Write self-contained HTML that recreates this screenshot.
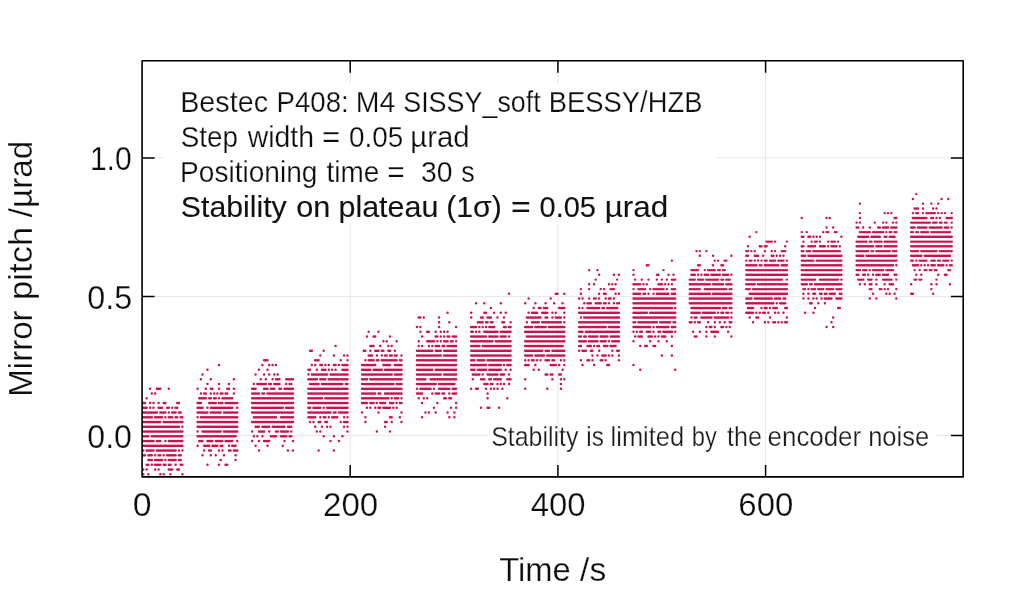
<!DOCTYPE html>
<html lang="en">
<head>
<meta charset="utf-8">
<title>Mirror pitch stability</title>
<style>
html,body{margin:0;padding:0;background:#fff;}
body{width:1024px;height:589px;overflow:hidden;font-family:"Liberation Sans",sans-serif;}
svg{display:block;}
</style>
</head>
<body>
<svg width="1024" height="589" viewBox="0 0 1024 589" font-family="'Liberation Sans', Arial, Helvetica, sans-serif">
<rect width="1024" height="589" fill="#ffffff"/>
<path d="M142.1 296.6H963.2 M142.1 157.9H165 M717 157.9H963.2 M142.1 435.4H487 M936 435.4H963.2 M350.2 60.7V84 M350.2 224V476.9 M557.9 60.7V84 M557.9 224V476.9 M765.6 60.7V476.9" stroke="#e6e6e6" stroke-width="1" fill="none"/>
<path d="M350.2 476.9v-12 M350.2 60.7v12 M557.9 476.9v-12 M557.9 60.7v12 M765.6 476.9v-12 M765.6 60.7v12 M963.2 435.4h-12.3 M142.1 296.6h12.5 M963.2 296.6h-12.3 M142.1 157.9h12.5 M963.2 157.9h-12.3" stroke="#000" stroke-width="1.5" fill="none"/>
<path d="M143.3 403h0M143.3 407.7h0M143.3 412.5h0M143.3 417.2h0M143.3 421.9h0M143.3 426.7h0M143.3 431.4h0M143.3 436.2h0M143.3 440.9h0M143.3 445.7h0M143.3 450.4h0M143.3 455.2h0M143.3 469.4h0M143.3 474.2h0M145 403h0M145 407.7h0M145 412.5h0M145 417.2h0M145 421.9h0M145 426.7h0M145 431.4h0M145 436.2h0M145 440.9h0M145 445.7h0M145 455.2h0M146.7 398.2h0M146.7 407.7h0M146.7 412.5h0M146.7 417.2h0M146.7 421.9h0M146.7 426.7h0M146.7 431.4h0M146.7 436.2h0M146.7 440.9h0M146.7 445.7h0M146.7 450.4h0M146.7 464.7h0M146.7 469.4h0M148.4 412.5h0M148.4 417.2h0M148.4 421.9h0M148.4 426.7h0M148.4 431.4h0M148.4 436.2h0M148.4 440.9h0M148.4 445.7h0M148.4 450.4h0M148.4 455.2h0M148.4 459.9h0M148.4 464.7h0M148.4 474.2h0M150.1 388.7h0M150.1 403h0M150.1 407.7h0M150.1 412.5h0M150.1 417.2h0M150.1 421.9h0M150.1 426.7h0M150.1 431.4h0M150.1 440.9h0M150.1 445.7h0M150.1 450.4h0M150.1 455.2h0M150.1 459.9h0M151.8 393.5h0M151.8 412.5h0M151.8 417.2h0M151.8 421.9h0M151.8 426.7h0M151.8 431.4h0M151.8 436.2h0M151.8 440.9h0M151.8 445.7h0M151.8 450.4h0M151.8 455.2h0M151.8 459.9h0M151.8 464.7h0M153.5 403h0M153.5 407.7h0M153.5 412.5h0M153.5 421.9h0M153.5 426.7h0M153.5 431.4h0M153.5 436.2h0M153.5 440.9h0M153.5 445.7h0M153.5 450.4h0M155.2 393.5h0M155.2 412.5h0M155.2 417.2h0M155.2 421.9h0M155.2 426.7h0M155.2 431.4h0M155.2 436.2h0M155.2 445.7h0M155.2 455.2h0M155.2 459.9h0M155.2 464.7h0M155.2 469.4h0M156.9 388.7h0M156.9 412.5h0M156.9 417.2h0M156.9 421.9h0M156.9 426.7h0M156.9 431.4h0M156.9 436.2h0M156.9 440.9h0M156.9 445.7h0M156.9 450.4h0M156.9 459.9h0M156.9 464.7h0M158.6 388.7h0M158.6 403h0M158.6 407.7h0M158.6 417.2h0M158.6 421.9h0M158.6 426.7h0M158.6 431.4h0M158.6 436.2h0M158.6 440.9h0M158.6 445.7h0M158.6 450.4h0M158.6 455.2h0M158.6 459.9h0M158.6 464.7h0M158.6 469.4h0M160.3 388.7h0M160.3 407.7h0M160.3 412.5h0M160.3 417.2h0M160.3 421.9h0M160.3 426.7h0M160.3 431.4h0M160.3 436.2h0M160.3 440.9h0M160.3 445.7h0M160.3 450.4h0M160.3 455.2h0M160.3 459.9h0M160.3 464.7h0M160.3 474.2h0M162 407.7h0M162 412.5h0M162 417.2h0M162 426.7h0M162 431.4h0M162 436.2h0M162 445.7h0M162 450.4h0M162 459.9h0M163.7 403h0M163.7 412.5h0M163.7 421.9h0M163.7 426.7h0M163.7 431.4h0M163.7 436.2h0M163.7 445.7h0M163.7 450.4h0M163.7 455.2h0M163.7 464.7h0M163.7 474.2h0M165.4 403h0M165.4 412.5h0M165.4 417.2h0M165.4 421.9h0M165.4 426.7h0M165.4 431.4h0M165.4 436.2h0M165.4 440.9h0M165.4 445.7h0M165.4 450.4h0M165.4 459.9h0M165.4 464.7h0M167.1 407.7h0M167.1 421.9h0M167.1 426.7h0M167.1 431.4h0M167.1 436.2h0M167.1 445.7h0M167.1 450.4h0M167.1 455.2h0M168.8 388.7h0M168.8 407.7h0M168.8 412.5h0M168.8 417.2h0M168.8 421.9h0M168.8 426.7h0M168.8 431.4h0M168.8 436.2h0M168.8 440.9h0M168.8 445.7h0M168.8 450.4h0M168.8 455.2h0M168.8 459.9h0M168.8 464.7h0M168.8 469.4h0M170.5 417.2h0M170.5 421.9h0M170.5 426.7h0M170.5 431.4h0M170.5 436.2h0M170.5 440.9h0M170.5 445.7h0M170.5 450.4h0M170.5 455.2h0M170.5 459.9h0M170.5 464.7h0M170.5 469.4h0M170.5 474.2h0M172.2 407.7h0M172.2 412.5h0M172.2 417.2h0M172.2 421.9h0M172.2 426.7h0M172.2 431.4h0M172.2 436.2h0M172.2 440.9h0M172.2 445.7h0M172.2 450.4h0M172.2 455.2h0M172.2 459.9h0M172.2 469.4h0M173.9 412.5h0M173.9 421.9h0M173.9 426.7h0M173.9 431.4h0M173.9 436.2h0M173.9 440.9h0M173.9 445.7h0M173.9 450.4h0M173.9 455.2h0M173.9 459.9h0M175.6 407.7h0M175.6 412.5h0M175.6 417.2h0M175.6 421.9h0M175.6 426.7h0M175.6 431.4h0M175.6 436.2h0M175.6 440.9h0M175.6 445.7h0M175.6 450.4h0M175.6 455.2h0M175.6 459.9h0M175.6 464.7h0M177.3 403h0M177.3 407.7h0M177.3 417.2h0M177.3 421.9h0M177.3 426.7h0M177.3 431.4h0M177.3 436.2h0M177.3 440.9h0M177.3 445.7h0M177.3 469.4h0M179 403h0M179 412.5h0M179 421.9h0M179 426.7h0M179 431.4h0M179 436.2h0M179 440.9h0M179 445.7h0M179 450.4h0M179 455.2h0M179 459.9h0M179 469.4h0M180.7 412.5h0M180.7 417.2h0M180.7 421.9h0M180.7 431.4h0M180.7 436.2h0M180.7 440.9h0M180.7 445.7h0M180.7 455.2h0M180.7 459.9h0M180.7 464.7h0M182.4 417.2h0M182.4 421.9h0M182.4 426.7h0M182.4 431.4h0M182.4 436.2h0M182.4 440.9h0M182.4 445.7h0M182.4 450.4h0M182.4 464.7h0M182.4 474.2h0M197.6 388.7h0M197.6 403h0M197.6 407.7h0M197.6 412.5h0M197.6 417.2h0M197.6 421.9h0M197.6 426.7h0M197.6 431.4h0M197.6 436.2h0M197.6 445.7h0M199.2 398.2h0M199.2 403h0M199.2 407.7h0M199.2 412.5h0M199.2 421.9h0M199.2 426.7h0M199.2 436.2h0M199.2 440.9h0M200.9 379.2h0M200.9 393.5h0M200.9 398.2h0M200.9 403h0M200.9 407.7h0M200.9 412.5h0M200.9 417.2h0M200.9 421.9h0M200.9 426.7h0M200.9 436.2h0M200.9 440.9h0M202.5 374.5h0M202.5 398.2h0M202.5 407.7h0M202.5 412.5h0M202.5 417.2h0M202.5 421.9h0M202.5 426.7h0M202.5 431.4h0M202.5 436.2h0M202.5 440.9h0M202.5 455.2h0M204.2 393.5h0M204.2 398.2h0M204.2 412.5h0M204.2 417.2h0M204.2 421.9h0M204.2 426.7h0M204.2 431.4h0M204.2 436.2h0M204.2 445.7h0M204.2 450.4h0M205.8 388.7h0M205.8 393.5h0M205.8 398.2h0M205.8 412.5h0M205.8 417.2h0M205.8 421.9h0M205.8 426.7h0M205.8 431.4h0M205.8 436.2h0M205.8 445.7h0M207.5 369.7h0M207.5 384h0M207.5 407.7h0M207.5 412.5h0M207.5 417.2h0M207.5 421.9h0M207.5 426.7h0M207.5 431.4h0M207.5 436.2h0M207.5 440.9h0M207.5 445.7h0M207.5 464.7h0M209.2 398.2h0M209.2 403h0M209.2 417.2h0M209.2 421.9h0M209.2 426.7h0M209.2 431.4h0M209.2 436.2h0M209.2 440.9h0M209.2 445.7h0M209.2 450.4h0M210.8 379.2h0M210.8 388.7h0M210.8 393.5h0M210.8 398.2h0M210.8 403h0M210.8 407.7h0M210.8 412.5h0M210.8 417.2h0M210.8 421.9h0M210.8 426.7h0M210.8 431.4h0M210.8 436.2h0M210.8 440.9h0M210.8 450.4h0M210.8 455.2h0M212.4 388.7h0M212.4 403h0M212.4 407.7h0M212.4 412.5h0M212.4 417.2h0M212.4 421.9h0M212.4 426.7h0M212.4 431.4h0M212.4 436.2h0M212.4 440.9h0M212.4 445.7h0M214.1 393.5h0M214.1 398.2h0M214.1 403h0M214.1 407.7h0M214.1 412.5h0M214.1 417.2h0M214.1 421.9h0M214.1 426.7h0M214.1 431.4h0M214.1 436.2h0M214.1 445.7h0M215.8 398.2h0M215.8 403h0M215.8 407.7h0M215.8 412.5h0M215.8 417.2h0M215.8 421.9h0M215.8 426.7h0M215.8 431.4h0M215.8 436.2h0M215.8 440.9h0M215.8 445.7h0M215.8 455.2h0M217.4 393.5h0M217.4 407.7h0M217.4 412.5h0M217.4 417.2h0M217.4 421.9h0M217.4 426.7h0M217.4 431.4h0M217.4 436.2h0M217.4 440.9h0M217.4 445.7h0M219 365h0M219 384h0M219 388.7h0M219 398.2h0M219 403h0M219 407.7h0M219 412.5h0M219 417.2h0M219 421.9h0M219 426.7h0M219 431.4h0M219 436.2h0M219 440.9h0M219 450.4h0M219 464.7h0M220.7 393.5h0M220.7 403h0M220.7 407.7h0M220.7 412.5h0M220.7 417.2h0M220.7 421.9h0M220.7 426.7h0M220.7 431.4h0M220.7 436.2h0M220.7 440.9h0M220.7 445.7h0M220.7 459.9h0M222.4 393.5h0M222.4 398.2h0M222.4 403h0M222.4 407.7h0M222.4 417.2h0M222.4 421.9h0M222.4 426.7h0M222.4 436.2h0M222.4 440.9h0M222.4 445.7h0M222.4 450.4h0M224 398.2h0M224 407.7h0M224 412.5h0M224 417.2h0M224 421.9h0M224 426.7h0M224 431.4h0M224 436.2h0M224 455.2h0M225.6 393.5h0M225.6 398.2h0M225.6 403h0M225.6 407.7h0M225.6 412.5h0M225.6 417.2h0M225.6 421.9h0M225.6 426.7h0M225.6 431.4h0M225.6 436.2h0M225.6 440.9h0M225.6 464.7h0M227.3 388.7h0M227.3 393.5h0M227.3 398.2h0M227.3 403h0M227.3 407.7h0M227.3 412.5h0M227.3 417.2h0M227.3 421.9h0M227.3 426.7h0M227.3 431.4h0M227.3 436.2h0M227.3 440.9h0M227.3 464.7h0M229 384h0M229 388.7h0M229 398.2h0M229 403h0M229 407.7h0M229 412.5h0M229 417.2h0M229 421.9h0M229 426.7h0M229 431.4h0M229 436.2h0M229 440.9h0M229 445.7h0M229 450.4h0M230.6 398.2h0M230.6 403h0M230.6 407.7h0M230.6 412.5h0M230.6 417.2h0M230.6 421.9h0M230.6 426.7h0M230.6 431.4h0M230.6 436.2h0M230.6 440.9h0M230.6 450.4h0M232.2 398.2h0M232.2 403h0M232.2 407.7h0M232.2 412.5h0M232.2 417.2h0M232.2 421.9h0M232.2 426.7h0M232.2 431.4h0M232.2 436.2h0M232.2 440.9h0M232.2 445.7h0M233.9 379.2h0M233.9 388.7h0M233.9 393.5h0M233.9 403h0M233.9 412.5h0M233.9 417.2h0M233.9 421.9h0M233.9 426.7h0M233.9 431.4h0M233.9 436.2h0M233.9 445.7h0M233.9 450.4h0M235.6 403h0M235.6 412.5h0M235.6 417.2h0M235.6 421.9h0M235.6 426.7h0M235.6 431.4h0M235.6 436.2h0M235.6 445.7h0M235.6 450.4h0M235.6 455.2h0M235.6 459.9h0M237.2 403h0M237.2 407.7h0M237.2 412.5h0M237.2 417.2h0M237.2 421.9h0M237.2 426.7h0M237.2 431.4h0M237.2 440.9h0M237.2 450.4h0M252.2 388.7h0M252.2 393.5h0M252.2 398.2h0M252.2 403h0M252.2 407.7h0M252.2 412.5h0M252.2 421.9h0M252.2 431.4h0M252.2 440.9h0M253.9 384h0M253.9 388.7h0M253.9 393.5h0M253.9 398.2h0M253.9 403h0M253.9 407.7h0M253.9 412.5h0M253.9 417.2h0M253.9 421.9h0M253.9 436.2h0M255.6 374.5h0M255.6 388.7h0M255.6 393.5h0M255.6 398.2h0M255.6 403h0M255.6 407.7h0M255.6 412.5h0M255.6 417.2h0M255.6 421.9h0M255.6 426.7h0M255.6 445.7h0M257.3 384h0M257.3 393.5h0M257.3 398.2h0M257.3 403h0M257.3 407.7h0M257.3 412.5h0M257.3 417.2h0M257.3 421.9h0M257.3 426.7h0M257.3 436.2h0M259 369.7h0M259 384h0M259 393.5h0M259 398.2h0M259 403h0M259 407.7h0M259 412.5h0M259 417.2h0M259 421.9h0M259 426.7h0M259 431.4h0M259 440.9h0M259 450.4h0M260.7 379.2h0M260.7 384h0M260.7 398.2h0M260.7 403h0M260.7 407.7h0M260.7 412.5h0M260.7 417.2h0M260.7 421.9h0M260.7 431.4h0M262.4 365h0M262.4 384h0M262.4 393.5h0M262.4 398.2h0M262.4 403h0M262.4 407.7h0M262.4 412.5h0M262.4 417.2h0M262.4 421.9h0M262.4 426.7h0M262.4 431.4h0M262.4 436.2h0M264.1 360.2h0M264.1 374.5h0M264.1 384h0M264.1 388.7h0M264.1 393.5h0M264.1 398.2h0M264.1 403h0M264.1 407.7h0M264.1 412.5h0M264.1 417.2h0M264.1 421.9h0M264.1 426.7h0M264.1 431.4h0M264.1 440.9h0M265.8 360.2h0M265.8 379.2h0M265.8 384h0M265.8 388.7h0M265.8 398.2h0M265.8 403h0M265.8 407.7h0M265.8 412.5h0M265.8 417.2h0M265.8 421.9h0M265.8 426.7h0M265.8 440.9h0M267.5 360.2h0M267.5 369.7h0M267.5 388.7h0M267.5 393.5h0M267.5 398.2h0M267.5 403h0M267.5 407.7h0M267.5 412.5h0M267.5 417.2h0M267.5 421.9h0M267.5 426.7h0M267.5 440.9h0M267.5 445.7h0M269.2 365h0M269.2 374.5h0M269.2 384h0M269.2 393.5h0M269.2 398.2h0M269.2 403h0M269.2 407.7h0M269.2 412.5h0M269.2 417.2h0M269.2 421.9h0M269.2 426.7h0M269.2 431.4h0M269.2 440.9h0M270.9 384h0M270.9 388.7h0M270.9 393.5h0M270.9 398.2h0M270.9 403h0M270.9 407.7h0M270.9 412.5h0M270.9 417.2h0M270.9 421.9h0M270.9 436.2h0M272.6 365h0M272.6 379.2h0M272.6 388.7h0M272.6 393.5h0M272.6 398.2h0M272.6 403h0M272.6 407.7h0M272.6 412.5h0M272.6 417.2h0M272.6 421.9h0M272.6 426.7h0M272.6 436.2h0M274.3 374.5h0M274.3 384h0M274.3 388.7h0M274.3 393.5h0M274.3 398.2h0M274.3 403h0M274.3 407.7h0M274.3 412.5h0M274.3 417.2h0M274.3 421.9h0M274.3 426.7h0M274.3 436.2h0M276 365h0M276 379.2h0M276 384h0M276 393.5h0M276 398.2h0M276 403h0M276 407.7h0M276 412.5h0M276 417.2h0M276 421.9h0M276 426.7h0M276 431.4h0M276 436.2h0M277.7 374.5h0M277.7 379.2h0M277.7 384h0M277.7 393.5h0M277.7 398.2h0M277.7 403h0M277.7 407.7h0M277.7 412.5h0M277.7 421.9h0M277.7 426.7h0M277.7 431.4h0M279.4 379.2h0M279.4 384h0M279.4 388.7h0M279.4 393.5h0M279.4 398.2h0M279.4 403h0M279.4 407.7h0M279.4 412.5h0M279.4 421.9h0M279.4 426.7h0M281.1 388.7h0M281.1 393.5h0M281.1 398.2h0M281.1 403h0M281.1 407.7h0M281.1 412.5h0M281.1 417.2h0M281.1 421.9h0M281.1 426.7h0M281.1 431.4h0M281.1 436.2h0M282.8 393.5h0M282.8 398.2h0M282.8 403h0M282.8 407.7h0M282.8 412.5h0M282.8 417.2h0M282.8 421.9h0M282.8 426.7h0M282.8 431.4h0M282.8 436.2h0M282.8 445.7h0M284.5 388.7h0M284.5 393.5h0M284.5 398.2h0M284.5 403h0M284.5 412.5h0M284.5 417.2h0M284.5 421.9h0M284.5 426.7h0M284.5 431.4h0M284.5 436.2h0M284.5 440.9h0M286.2 379.2h0M286.2 384h0M286.2 388.7h0M286.2 393.5h0M286.2 398.2h0M286.2 403h0M286.2 407.7h0M286.2 412.5h0M286.2 417.2h0M286.2 421.9h0M286.2 431.4h0M286.2 436.2h0M287.9 379.2h0M287.9 388.7h0M287.9 393.5h0M287.9 398.2h0M287.9 403h0M287.9 407.7h0M287.9 412.5h0M287.9 417.2h0M287.9 421.9h0M287.9 426.7h0M287.9 431.4h0M287.9 450.4h0M289.6 379.2h0M289.6 384h0M289.6 388.7h0M289.6 393.5h0M289.6 398.2h0M289.6 403h0M289.6 407.7h0M289.6 412.5h0M289.6 417.2h0M289.6 421.9h0M289.6 426.7h0M289.6 436.2h0M291.3 379.2h0M291.3 384h0M291.3 388.7h0M291.3 393.5h0M291.3 398.2h0M291.3 403h0M291.3 407.7h0M291.3 412.5h0M291.3 417.2h0M291.3 421.9h0M291.3 426.7h0M291.3 431.4h0M291.3 436.2h0M293 379.2h0M293 388.7h0M293 393.5h0M293 398.2h0M293 403h0M293 407.7h0M293 412.5h0M293 417.2h0M293 421.9h0M293 440.9h0M293 450.4h0M308.4 369.7h0M308.4 374.5h0M308.4 379.2h0M308.4 388.7h0M308.4 393.5h0M308.4 398.2h0M308.4 403h0M308.4 407.7h0M308.4 412.5h0M308.4 417.2h0M310.1 350.8h0M310.1 369.7h0M310.1 379.2h0M310.1 384h0M310.1 388.7h0M310.1 393.5h0M310.1 398.2h0M310.1 403h0M310.1 407.7h0M310.1 412.5h0M310.1 417.2h0M310.1 421.9h0M311.8 350.8h0M311.8 365h0M311.8 374.5h0M311.8 379.2h0M311.8 384h0M311.8 388.7h0M311.8 393.5h0M311.8 398.2h0M311.8 403h0M311.8 412.5h0M311.8 417.2h0M313.5 374.5h0M313.5 379.2h0M313.5 384h0M313.5 388.7h0M313.5 393.5h0M313.5 398.2h0M313.5 403h0M313.5 407.7h0M313.5 412.5h0M313.5 417.2h0M313.5 421.9h0M315.2 360.2h0M315.2 365h0M315.2 374.5h0M315.2 379.2h0M315.2 384h0M315.2 388.7h0M315.2 393.5h0M315.2 398.2h0M315.2 403h0M315.2 407.7h0M315.2 412.5h0M315.2 417.2h0M315.2 426.7h0M316.9 360.2h0M316.9 369.7h0M316.9 374.5h0M316.9 379.2h0M316.9 384h0M316.9 388.7h0M316.9 393.5h0M316.9 398.2h0M316.9 403h0M316.9 407.7h0M316.9 412.5h0M316.9 431.4h0M318.6 360.2h0M318.6 374.5h0M318.6 384h0M318.6 388.7h0M318.6 393.5h0M318.6 398.2h0M318.6 403h0M318.6 407.7h0M318.6 412.5h0M318.6 421.9h0M318.6 450.4h0M320.3 355.5h0M320.3 365h0M320.3 374.5h0M320.3 379.2h0M320.3 388.7h0M320.3 393.5h0M320.3 398.2h0M320.3 403h0M320.3 407.7h0M320.3 412.5h0M320.3 417.2h0M320.3 421.9h0M320.3 431.4h0M322 365h0M322 369.7h0M322 374.5h0M322 379.2h0M322 384h0M322 388.7h0M322 393.5h0M322 398.2h0M322 403h0M322 412.5h0M322 426.7h0M323.7 350.8h0M323.7 369.7h0M323.7 374.5h0M323.7 379.2h0M323.7 384h0M323.7 388.7h0M323.7 393.5h0M323.7 403h0M323.7 407.7h0M323.7 412.5h0M323.7 417.2h0M323.7 436.2h0M325.4 365h0M325.4 369.7h0M325.4 374.5h0M325.4 379.2h0M325.4 384h0M325.4 388.7h0M325.4 393.5h0M325.4 398.2h0M325.4 403h0M325.4 412.5h0M325.4 417.2h0M325.4 421.9h0M327.1 374.5h0M327.1 384h0M327.1 388.7h0M327.1 393.5h0M327.1 398.2h0M327.1 403h0M327.1 407.7h0M327.1 412.5h0M327.1 421.9h0M327.1 426.7h0M328.8 365h0M328.8 369.7h0M328.8 379.2h0M328.8 384h0M328.8 388.7h0M328.8 393.5h0M328.8 398.2h0M328.8 403h0M328.8 407.7h0M328.8 412.5h0M328.8 417.2h0M330.5 374.5h0M330.5 379.2h0M330.5 384h0M330.5 388.7h0M330.5 393.5h0M330.5 398.2h0M330.5 403h0M330.5 407.7h0M330.5 412.5h0M330.5 426.7h0M330.5 440.9h0M332.2 369.7h0M332.2 374.5h0M332.2 379.2h0M332.2 384h0M332.2 388.7h0M332.2 393.5h0M332.2 398.2h0M332.2 403h0M332.2 407.7h0M332.2 417.2h0M333.9 355.5h0M333.9 365h0M333.9 374.5h0M333.9 379.2h0M333.9 384h0M333.9 388.7h0M333.9 393.5h0M333.9 398.2h0M333.9 403h0M333.9 407.7h0M333.9 412.5h0M333.9 417.2h0M333.9 436.2h0M333.9 450.4h0M335.6 346h0M335.6 365h0M335.6 369.7h0M335.6 374.5h0M335.6 379.2h0M335.6 384h0M335.6 388.7h0M335.6 393.5h0M335.6 398.2h0M335.6 403h0M335.6 407.7h0M335.6 412.5h0M335.6 417.2h0M337.3 374.5h0M337.3 379.2h0M337.3 384h0M337.3 388.7h0M337.3 393.5h0M337.3 398.2h0M337.3 403h0M337.3 407.7h0M337.3 417.2h0M339 365h0M339 374.5h0M339 379.2h0M339 384h0M339 388.7h0M339 393.5h0M339 398.2h0M339 403h0M339 407.7h0M339 412.5h0M339 440.9h0M340.7 360.2h0M340.7 374.5h0M340.7 379.2h0M340.7 384h0M340.7 388.7h0M340.7 393.5h0M340.7 398.2h0M340.7 403h0M340.7 407.7h0M340.7 412.5h0M340.7 421.9h0M342.4 365h0M342.4 369.7h0M342.4 374.5h0M342.4 379.2h0M342.4 384h0M342.4 388.7h0M342.4 393.5h0M342.4 398.2h0M342.4 403h0M342.4 407.7h0M342.4 412.5h0M342.4 436.2h0M344.1 355.5h0M344.1 365h0M344.1 369.7h0M344.1 374.5h0M344.1 379.2h0M344.1 388.7h0M344.1 393.5h0M344.1 398.2h0M344.1 403h0M344.1 407.7h0M344.1 412.5h0M344.1 417.2h0M344.1 421.9h0M344.1 426.7h0M345.8 365h0M345.8 369.7h0M345.8 374.5h0M345.8 379.2h0M345.8 384h0M345.8 388.7h0M345.8 393.5h0M345.8 398.2h0M345.8 403h0M345.8 407.7h0M345.8 412.5h0M345.8 421.9h0M347.5 355.5h0M347.5 360.2h0M347.5 365h0M347.5 369.7h0M347.5 374.5h0M347.5 379.2h0M347.5 384h0M347.5 388.7h0M347.5 393.5h0M347.5 398.2h0M347.5 403h0M347.5 407.7h0M347.5 412.5h0M347.5 417.2h0M347.5 421.9h0M347.5 426.7h0M347.5 431.4h0M362.1 365h0M362.1 369.7h0M362.1 374.5h0M362.1 379.2h0M362.1 384h0M362.1 388.7h0M362.1 393.5h0M362.1 398.2h0M362.1 403h0M362.1 412.5h0M363.7 350.8h0M363.7 365h0M363.7 369.7h0M363.7 374.5h0M363.7 379.2h0M363.7 384h0M363.7 388.7h0M363.7 393.5h0M363.7 398.2h0M363.7 403h0M365.4 350.8h0M365.4 360.2h0M365.4 365h0M365.4 369.7h0M365.4 374.5h0M365.4 379.2h0M365.4 384h0M365.4 388.7h0M365.4 393.5h0M365.4 398.2h0M365.4 403h0M365.4 417.2h0M365.4 421.9h0M367 336.5h0M367 365h0M367 369.7h0M367 374.5h0M367 379.2h0M367 384h0M367 388.7h0M367 393.5h0M367 398.2h0M367 403h0M367 407.7h0M368.7 331.8h0M368.7 355.5h0M368.7 360.2h0M368.7 365h0M368.7 369.7h0M368.7 374.5h0M368.7 384h0M368.7 388.7h0M368.7 393.5h0M368.7 398.2h0M370.3 346h0M370.3 350.8h0M370.3 355.5h0M370.3 360.2h0M370.3 365h0M370.3 369.7h0M370.3 374.5h0M370.3 379.2h0M370.3 384h0M370.3 388.7h0M370.3 393.5h0M370.3 398.2h0M370.3 403h0M370.3 407.7h0M372 346h0M372 355.5h0M372 360.2h0M372 365h0M372 374.5h0M372 379.2h0M372 384h0M372 388.7h0M372 393.5h0M372 398.2h0M372 403h0M373.6 336.5h0M373.6 346h0M373.6 360.2h0M373.6 365h0M373.6 369.7h0M373.6 374.5h0M373.6 379.2h0M373.6 384h0M373.6 388.7h0M373.6 393.5h0M373.6 398.2h0M373.6 403h0M375.2 336.5h0M375.2 350.8h0M375.2 365h0M375.2 369.7h0M375.2 374.5h0M375.2 379.2h0M375.2 384h0M375.2 388.7h0M375.2 393.5h0M375.2 398.2h0M375.2 407.7h0M376.9 350.8h0M376.9 355.5h0M376.9 360.2h0M376.9 369.7h0M376.9 374.5h0M376.9 379.2h0M376.9 384h0M376.9 388.7h0M376.9 398.2h0M376.9 403h0M376.9 431.4h0M378.5 331.8h0M378.5 350.8h0M378.5 360.2h0M378.5 369.7h0M378.5 374.5h0M378.5 379.2h0M378.5 384h0M378.5 388.7h0M378.5 393.5h0M378.5 398.2h0M378.5 407.7h0M378.5 412.5h0M380.2 346h0M380.2 369.7h0M380.2 374.5h0M380.2 379.2h0M380.2 384h0M380.2 388.7h0M380.2 393.5h0M380.2 398.2h0M380.2 403h0M380.2 407.7h0M381.8 350.8h0M381.8 355.5h0M381.8 360.2h0M381.8 369.7h0M381.8 374.5h0M381.8 379.2h0M381.8 384h0M381.8 388.7h0M381.8 398.2h0M381.8 403h0M383.4 341.3h0M383.4 350.8h0M383.4 360.2h0M383.4 365h0M383.4 374.5h0M383.4 379.2h0M383.4 384h0M383.4 388.7h0M383.4 398.2h0M383.4 403h0M383.4 407.7h0M385.1 355.5h0M385.1 360.2h0M385.1 365h0M385.1 369.7h0M385.1 374.5h0M385.1 379.2h0M385.1 384h0M385.1 388.7h0M385.1 393.5h0M385.1 398.2h0M385.1 403h0M385.1 407.7h0M385.1 421.9h0M385.1 426.7h0M386.7 341.3h0M386.7 355.5h0M386.7 360.2h0M386.7 365h0M386.7 369.7h0M386.7 374.5h0M386.7 379.2h0M386.7 384h0M386.7 388.7h0M386.7 393.5h0M386.7 398.2h0M386.7 407.7h0M386.7 421.9h0M388.4 346h0M388.4 350.8h0M388.4 360.2h0M388.4 365h0M388.4 369.7h0M388.4 374.5h0M388.4 379.2h0M388.4 384h0M388.4 388.7h0M388.4 393.5h0M388.4 398.2h0M388.4 407.7h0M390 336.5h0M390 350.8h0M390 355.5h0M390 360.2h0M390 365h0M390 369.7h0M390 374.5h0M390 379.2h0M390 384h0M390 388.7h0M390 393.5h0M390 403h0M390 407.7h0M390 417.2h0M390 431.4h0M391.7 346h0M391.7 355.5h0M391.7 360.2h0M391.7 369.7h0M391.7 374.5h0M391.7 379.2h0M391.7 384h0M391.7 388.7h0M391.7 393.5h0M391.7 398.2h0M391.7 403h0M391.7 417.2h0M391.7 421.9h0M393.3 360.2h0M393.3 369.7h0M393.3 379.2h0M393.3 384h0M393.3 388.7h0M393.3 393.5h0M393.3 403h0M393.3 407.7h0M394.9 350.8h0M394.9 355.5h0M394.9 360.2h0M394.9 365h0M394.9 369.7h0M394.9 374.5h0M394.9 379.2h0M394.9 388.7h0M394.9 393.5h0M394.9 398.2h0M396.6 341.3h0M396.6 355.5h0M396.6 360.2h0M396.6 365h0M396.6 369.7h0M396.6 374.5h0M396.6 379.2h0M396.6 384h0M396.6 388.7h0M396.6 393.5h0M396.6 398.2h0M396.6 403h0M396.6 407.7h0M398.2 365h0M398.2 369.7h0M398.2 374.5h0M398.2 379.2h0M398.2 384h0M398.2 388.7h0M398.2 393.5h0M398.2 398.2h0M399.9 360.2h0M399.9 365h0M399.9 369.7h0M399.9 374.5h0M399.9 379.2h0M399.9 384h0M399.9 388.7h0M399.9 393.5h0M399.9 403h0M399.9 417.2h0M401.5 355.5h0M401.5 360.2h0M401.5 365h0M401.5 369.7h0M401.5 374.5h0M401.5 379.2h0M401.5 384h0M401.5 388.7h0M401.5 393.5h0M401.5 398.2h0M401.5 403h0M401.5 412.5h0M401.5 421.9h0M417 327h0M417 350.8h0M417 355.5h0M417 360.2h0M417 365h0M417 369.7h0M417 374.5h0M417 379.2h0M417 384h0M417 388.7h0M417 393.5h0M418.7 317.5h0M418.7 341.3h0M418.7 346h0M418.7 350.8h0M418.7 355.5h0M418.7 360.2h0M418.7 365h0M418.7 369.7h0M418.7 374.5h0M418.7 379.2h0M418.7 384h0M418.7 393.5h0M418.7 398.2h0M420.4 317.5h0M420.4 327h0M420.4 331.8h0M420.4 350.8h0M420.4 355.5h0M420.4 360.2h0M420.4 365h0M420.4 369.7h0M420.4 374.5h0M420.4 379.2h0M420.4 384h0M420.4 388.7h0M420.4 393.5h0M422.1 336.5h0M422.1 346h0M422.1 350.8h0M422.1 355.5h0M422.1 360.2h0M422.1 365h0M422.1 369.7h0M422.1 374.5h0M422.1 379.2h0M422.1 384h0M422.1 388.7h0M422.1 393.5h0M422.1 403h0M422.1 417.2h0M423.8 317.5h0M423.8 350.8h0M423.8 355.5h0M423.8 360.2h0M423.8 365h0M423.8 369.7h0M423.8 374.5h0M423.8 379.2h0M423.8 384h0M423.8 388.7h0M423.8 398.2h0M425.5 350.8h0M425.5 355.5h0M425.5 360.2h0M425.5 365h0M425.5 369.7h0M425.5 374.5h0M425.5 379.2h0M425.5 384h0M425.5 388.7h0M425.5 412.5h0M427.2 331.8h0M427.2 341.3h0M427.2 350.8h0M427.2 355.5h0M427.2 360.2h0M427.2 365h0M427.2 369.7h0M427.2 374.5h0M427.2 384h0M427.2 388.7h0M427.2 398.2h0M428.9 331.8h0M428.9 341.3h0M428.9 346h0M428.9 350.8h0M428.9 355.5h0M428.9 360.2h0M428.9 365h0M428.9 369.7h0M428.9 374.5h0M428.9 384h0M428.9 388.7h0M428.9 412.5h0M430.6 341.3h0M430.6 350.8h0M430.6 355.5h0M430.6 360.2h0M430.6 365h0M430.6 369.7h0M430.6 374.5h0M430.6 379.2h0M430.6 384h0M430.6 388.7h0M432.3 341.3h0M432.3 346h0M432.3 350.8h0M432.3 355.5h0M432.3 360.2h0M432.3 365h0M432.3 369.7h0M432.3 374.5h0M432.3 379.2h0M432.3 384h0M432.3 393.5h0M434 341.3h0M434 355.5h0M434 360.2h0M434 365h0M434 374.5h0M434 379.2h0M434 384h0M434 388.7h0M434 407.7h0M435.7 331.8h0M435.7 336.5h0M435.7 346h0M435.7 350.8h0M435.7 355.5h0M435.7 360.2h0M435.7 365h0M435.7 369.7h0M435.7 374.5h0M435.7 379.2h0M435.7 384h0M435.7 393.5h0M435.7 412.5h0M437.4 336.5h0M437.4 341.3h0M437.4 346h0M437.4 350.8h0M437.4 355.5h0M437.4 360.2h0M437.4 365h0M437.4 369.7h0M437.4 374.5h0M437.4 379.2h0M437.4 393.5h0M437.4 403h0M439.1 317.5h0M439.1 322.3h0M439.1 327h0M439.1 346h0M439.1 350.8h0M439.1 355.5h0M439.1 360.2h0M439.1 365h0M439.1 369.7h0M439.1 374.5h0M439.1 379.2h0M439.1 384h0M439.1 388.7h0M439.1 393.5h0M440.8 331.8h0M440.8 336.5h0M440.8 341.3h0M440.8 350.8h0M440.8 355.5h0M440.8 360.2h0M440.8 365h0M440.8 369.7h0M440.8 374.5h0M440.8 379.2h0M440.8 384h0M440.8 388.7h0M442.5 346h0M442.5 360.2h0M442.5 365h0M442.5 369.7h0M442.5 379.2h0M442.5 384h0M442.5 388.7h0M442.5 393.5h0M444.2 331.8h0M444.2 336.5h0M444.2 341.3h0M444.2 346h0M444.2 350.8h0M444.2 355.5h0M444.2 360.2h0M444.2 365h0M444.2 369.7h0M444.2 374.5h0M444.2 379.2h0M444.2 384h0M444.2 388.7h0M444.2 393.5h0M444.2 398.2h0M445.9 341.3h0M445.9 350.8h0M445.9 355.5h0M445.9 360.2h0M445.9 365h0M445.9 369.7h0M445.9 374.5h0M445.9 379.2h0M445.9 384h0M445.9 388.7h0M445.9 398.2h0M447.6 312.8h0M447.6 331.8h0M447.6 336.5h0M447.6 341.3h0M447.6 346h0M447.6 350.8h0M447.6 355.5h0M447.6 360.2h0M447.6 365h0M447.6 369.7h0M447.6 374.5h0M447.6 379.2h0M447.6 384h0M447.6 388.7h0M447.6 412.5h0M449.3 322.3h0M449.3 336.5h0M449.3 346h0M449.3 350.8h0M449.3 355.5h0M449.3 360.2h0M449.3 365h0M449.3 369.7h0M449.3 374.5h0M449.3 379.2h0M449.3 384h0M449.3 388.7h0M449.3 393.5h0M449.3 398.2h0M449.3 417.2h0M451 341.3h0M451 346h0M451 350.8h0M451 355.5h0M451 360.2h0M451 365h0M451 369.7h0M451 374.5h0M451 379.2h0M451 384h0M451 398.2h0M451 407.7h0M452.7 336.5h0M452.7 341.3h0M452.7 346h0M452.7 350.8h0M452.7 355.5h0M452.7 360.2h0M452.7 365h0M452.7 369.7h0M452.7 374.5h0M452.7 379.2h0M452.7 384h0M452.7 388.7h0M452.7 393.5h0M454.4 336.5h0M454.4 346h0M454.4 350.8h0M454.4 355.5h0M454.4 360.2h0M454.4 365h0M454.4 369.7h0M454.4 374.5h0M454.4 379.2h0M454.4 384h0M454.4 388.7h0M454.4 393.5h0M454.4 412.5h0M454.4 417.2h0M456.1 327h0M456.1 336.5h0M456.1 341.3h0M456.1 346h0M456.1 350.8h0M456.1 355.5h0M456.1 360.2h0M456.1 365h0M456.1 369.7h0M456.1 374.5h0M456.1 379.2h0M456.1 388.7h0M456.1 393.5h0M456.1 403h0M456.1 407.7h0M471.2 312.8h0M471.2 317.5h0M471.2 327h0M471.2 331.8h0M471.2 336.5h0M471.2 341.3h0M471.2 346h0M471.2 350.8h0M471.2 355.5h0M471.2 360.2h0M471.2 365h0M471.2 369.7h0M471.2 388.7h0M472.8 327h0M472.8 331.8h0M472.8 336.5h0M472.8 341.3h0M472.8 346h0M472.8 350.8h0M472.8 355.5h0M472.8 360.2h0M472.8 365h0M472.8 369.7h0M472.8 374.5h0M472.8 379.2h0M474.5 327h0M474.5 336.5h0M474.5 341.3h0M474.5 346h0M474.5 350.8h0M474.5 355.5h0M474.5 360.2h0M474.5 365h0M474.5 369.7h0M474.5 374.5h0M476.1 303.3h0M476.1 327h0M476.1 331.8h0M476.1 336.5h0M476.1 341.3h0M476.1 346h0M476.1 350.8h0M476.1 355.5h0M476.1 365h0M476.1 374.5h0M476.1 388.7h0M477.8 322.3h0M477.8 336.5h0M477.8 341.3h0M477.8 346h0M477.8 350.8h0M477.8 355.5h0M477.8 360.2h0M477.8 365h0M477.8 369.7h0M477.8 374.5h0M477.8 388.7h0M479.4 322.3h0M479.4 327h0M479.4 331.8h0M479.4 336.5h0M479.4 341.3h0M479.4 346h0M479.4 350.8h0M479.4 355.5h0M479.4 360.2h0M479.4 365h0M479.4 369.7h0M479.4 374.5h0M481 317.5h0M481 322.3h0M481 336.5h0M481 341.3h0M481 350.8h0M481 355.5h0M481 360.2h0M481 365h0M481 369.7h0M481 379.2h0M481 407.7h0M482.7 317.5h0M482.7 322.3h0M482.7 327h0M482.7 336.5h0M482.7 341.3h0M482.7 346h0M482.7 350.8h0M482.7 355.5h0M482.7 360.2h0M482.7 365h0M482.7 369.7h0M482.7 374.5h0M482.7 379.2h0M484.3 303.3h0M484.3 312.8h0M484.3 331.8h0M484.3 336.5h0M484.3 341.3h0M484.3 346h0M484.3 350.8h0M484.3 355.5h0M484.3 360.2h0M484.3 365h0M484.3 369.7h0M484.3 379.2h0M484.3 384h0M486 312.8h0M486 322.3h0M486 327h0M486 331.8h0M486 336.5h0M486 341.3h0M486 346h0M486 350.8h0M486 355.5h0M486 365h0M486 369.7h0M486 384h0M486 388.7h0M487.6 317.5h0M487.6 322.3h0M487.6 331.8h0M487.6 341.3h0M487.6 346h0M487.6 350.8h0M487.6 355.5h0M487.6 360.2h0M487.6 374.5h0M487.6 384h0M487.6 393.5h0M487.6 398.2h0M487.6 407.7h0M489.3 317.5h0M489.3 327h0M489.3 331.8h0M489.3 336.5h0M489.3 341.3h0M489.3 346h0M489.3 350.8h0M489.3 355.5h0M489.3 360.2h0M489.3 365h0M489.3 369.7h0M489.3 374.5h0M489.3 379.2h0M489.3 407.7h0M490.9 308h0M490.9 317.5h0M490.9 322.3h0M490.9 327h0M490.9 331.8h0M490.9 336.5h0M490.9 341.3h0M490.9 346h0M490.9 350.8h0M490.9 355.5h0M490.9 360.2h0M490.9 365h0M490.9 369.7h0M490.9 374.5h0M490.9 379.2h0M490.9 384h0M490.9 388.7h0M492.5 322.3h0M492.5 327h0M492.5 331.8h0M492.5 336.5h0M492.5 341.3h0M492.5 346h0M492.5 350.8h0M492.5 355.5h0M492.5 360.2h0M492.5 365h0M492.5 369.7h0M492.5 374.5h0M492.5 384h0M494.2 312.8h0M494.2 327h0M494.2 331.8h0M494.2 336.5h0M494.2 346h0M494.2 350.8h0M494.2 355.5h0M494.2 360.2h0M494.2 365h0M494.2 369.7h0M494.2 374.5h0M494.2 379.2h0M494.2 388.7h0M495.8 331.8h0M495.8 336.5h0M495.8 341.3h0M495.8 346h0M495.8 350.8h0M495.8 355.5h0M495.8 360.2h0M495.8 365h0M495.8 369.7h0M495.8 374.5h0M495.8 379.2h0M497.5 317.5h0M497.5 331.8h0M497.5 336.5h0M497.5 341.3h0M497.5 346h0M497.5 350.8h0M497.5 355.5h0M497.5 360.2h0M497.5 365h0M497.5 369.7h0M497.5 374.5h0M497.5 379.2h0M497.5 384h0M497.5 388.7h0M499.1 341.3h0M499.1 346h0M499.1 350.8h0M499.1 355.5h0M499.1 360.2h0M499.1 365h0M499.1 369.7h0M499.1 379.2h0M499.1 407.7h0M500.8 303.3h0M500.8 312.8h0M500.8 331.8h0M500.8 336.5h0M500.8 341.3h0M500.8 346h0M500.8 350.8h0M500.8 355.5h0M500.8 360.2h0M500.8 365h0M500.8 369.7h0M500.8 374.5h0M500.8 379.2h0M500.8 384h0M502.4 322.3h0M502.4 331.8h0M502.4 336.5h0M502.4 341.3h0M502.4 346h0M502.4 350.8h0M502.4 355.5h0M502.4 360.2h0M502.4 374.5h0M502.4 388.7h0M504 317.5h0M504 322.3h0M504 327h0M504 331.8h0M504 336.5h0M504 341.3h0M504 346h0M504 350.8h0M504 355.5h0M504 360.2h0M504 365h0M504 374.5h0M504 384h0M505.7 312.8h0M505.7 327h0M505.7 331.8h0M505.7 336.5h0M505.7 341.3h0M505.7 346h0M505.7 350.8h0M505.7 355.5h0M505.7 360.2h0M505.7 369.7h0M507.3 331.8h0M507.3 341.3h0M507.3 346h0M507.3 350.8h0M507.3 355.5h0M507.3 360.2h0M507.3 365h0M507.3 379.2h0M507.3 398.2h0M509 293.8h0M509 327h0M509 331.8h0M509 336.5h0M509 341.3h0M509 346h0M509 350.8h0M509 355.5h0M509 360.2h0M509 365h0M509 374.5h0M509 379.2h0M509 384h0M510.6 322.3h0M510.6 327h0M510.6 331.8h0M510.6 341.3h0M510.6 346h0M510.6 350.8h0M510.6 355.5h0M510.6 360.2h0M510.6 365h0M510.6 369.7h0M510.6 379.2h0M525.2 303.3h0M525.2 327h0M525.2 331.8h0M525.2 341.3h0M525.2 346h0M525.2 350.8h0M525.2 355.5h0M525.2 360.2h0M525.2 365h0M525.2 379.2h0M525.2 388.7h0M526.9 317.5h0M526.9 322.3h0M526.9 327h0M526.9 331.8h0M526.9 336.5h0M526.9 341.3h0M526.9 346h0M526.9 350.8h0M526.9 355.5h0M526.9 365h0M528.6 298.5h0M528.6 312.8h0M528.6 317.5h0M528.6 327h0M528.6 331.8h0M528.6 336.5h0M528.6 341.3h0M528.6 346h0M528.6 350.8h0M528.6 355.5h0M528.6 360.2h0M528.6 365h0M530.3 317.5h0M530.3 327h0M530.3 331.8h0M530.3 336.5h0M530.3 341.3h0M530.3 346h0M530.3 350.8h0M530.3 355.5h0M532 312.8h0M532 317.5h0M532 322.3h0M532 327h0M532 331.8h0M532 336.5h0M532 341.3h0M532 346h0M532 350.8h0M532 355.5h0M532 360.2h0M533.7 308h0M533.7 312.8h0M533.7 317.5h0M533.7 322.3h0M533.7 331.8h0M533.7 336.5h0M533.7 341.3h0M533.7 346h0M533.7 350.8h0M533.7 360.2h0M533.7 369.7h0M535.4 303.3h0M535.4 312.8h0M535.4 317.5h0M535.4 322.3h0M535.4 327h0M535.4 331.8h0M535.4 336.5h0M535.4 341.3h0M535.4 346h0M535.4 350.8h0M535.4 355.5h0M535.4 365h0M537.1 312.8h0M537.1 317.5h0M537.1 322.3h0M537.1 327h0M537.1 331.8h0M537.1 336.5h0M537.1 341.3h0M537.1 346h0M537.1 350.8h0M537.1 355.5h0M537.1 360.2h0M538.8 308h0M538.8 317.5h0M538.8 322.3h0M538.8 327h0M538.8 331.8h0M538.8 336.5h0M538.8 341.3h0M538.8 346h0M538.8 350.8h0M538.8 355.5h0M538.8 369.7h0M540.5 308h0M540.5 317.5h0M540.5 327h0M540.5 331.8h0M540.5 336.5h0M540.5 341.3h0M540.5 346h0M540.5 350.8h0M540.5 355.5h0M540.5 360.2h0M542.2 312.8h0M542.2 322.3h0M542.2 327h0M542.2 331.8h0M542.2 336.5h0M542.2 341.3h0M542.2 346h0M542.2 350.8h0M542.2 355.5h0M543.9 308h0M543.9 312.8h0M543.9 322.3h0M543.9 327h0M543.9 331.8h0M543.9 336.5h0M543.9 341.3h0M543.9 346h0M543.9 355.5h0M545.6 303.3h0M545.6 308h0M545.6 312.8h0M545.6 317.5h0M545.6 322.3h0M545.6 327h0M545.6 331.8h0M545.6 336.5h0M545.6 341.3h0M545.6 346h0M545.6 350.8h0M545.6 360.2h0M545.6 374.5h0M547.3 308h0M547.3 312.8h0M547.3 317.5h0M547.3 322.3h0M547.3 331.8h0M547.3 336.5h0M547.3 341.3h0M547.3 346h0M547.3 350.8h0M547.3 355.5h0M547.3 360.2h0M547.3 374.5h0M547.3 388.7h0M549 322.3h0M549 327h0M549 331.8h0M549 336.5h0M549 341.3h0M549 346h0M549 350.8h0M549 355.5h0M549 360.2h0M550.7 298.5h0M550.7 322.3h0M550.7 327h0M550.7 331.8h0M550.7 336.5h0M550.7 341.3h0M550.7 346h0M550.7 355.5h0M550.7 365h0M550.7 374.5h0M552.4 312.8h0M552.4 317.5h0M552.4 322.3h0M552.4 327h0M552.4 331.8h0M552.4 336.5h0M552.4 341.3h0M552.4 346h0M552.4 350.8h0M552.4 355.5h0M552.4 360.2h0M552.4 365h0M552.4 374.5h0M552.4 379.2h0M554.1 303.3h0M554.1 322.3h0M554.1 327h0M554.1 331.8h0M554.1 336.5h0M554.1 341.3h0M554.1 346h0M554.1 350.8h0M554.1 355.5h0M554.1 360.2h0M554.1 365h0M555.8 293.8h0M555.8 312.8h0M555.8 317.5h0M555.8 322.3h0M555.8 327h0M555.8 331.8h0M555.8 336.5h0M555.8 341.3h0M555.8 346h0M555.8 350.8h0M555.8 355.5h0M555.8 365h0M557.5 293.8h0M557.5 317.5h0M557.5 322.3h0M557.5 327h0M557.5 331.8h0M557.5 336.5h0M557.5 341.3h0M557.5 346h0M557.5 350.8h0M557.5 355.5h0M559.2 308h0M559.2 317.5h0M559.2 322.3h0M559.2 327h0M559.2 331.8h0M559.2 336.5h0M559.2 341.3h0M559.2 346h0M559.2 350.8h0M559.2 355.5h0M559.2 365h0M559.2 374.5h0M560.9 308h0M560.9 317.5h0M560.9 322.3h0M560.9 327h0M560.9 331.8h0M560.9 336.5h0M560.9 341.3h0M560.9 346h0M560.9 350.8h0M560.9 355.5h0M560.9 360.2h0M560.9 374.5h0M560.9 379.2h0M560.9 384h0M560.9 388.7h0M562.6 303.3h0M562.6 308h0M562.6 327h0M562.6 331.8h0M562.6 336.5h0M562.6 341.3h0M562.6 346h0M562.6 350.8h0M562.6 355.5h0M562.6 369.7h0M564.3 293.8h0M564.3 308h0M564.3 312.8h0M564.3 317.5h0M564.3 322.3h0M564.3 327h0M564.3 331.8h0M564.3 336.5h0M564.3 341.3h0M564.3 350.8h0M564.3 355.5h0M564.3 360.2h0M564.3 365h0M564.3 379.2h0M579.2 298.5h0M579.2 308h0M579.2 312.8h0M579.2 322.3h0M579.2 327h0M579.2 331.8h0M579.2 336.5h0M579.2 341.3h0M579.2 346h0M579.2 350.8h0M580.9 289.1h0M580.9 293.8h0M580.9 312.8h0M580.9 317.5h0M580.9 322.3h0M580.9 327h0M580.9 331.8h0M580.9 336.5h0M580.9 341.3h0M580.9 346h0M580.9 360.2h0M582.5 298.5h0M582.5 308h0M582.5 312.8h0M582.5 322.3h0M582.5 327h0M582.5 331.8h0M582.5 341.3h0M582.5 350.8h0M582.5 365h0M584.2 303.3h0M584.2 312.8h0M584.2 317.5h0M584.2 322.3h0M584.2 327h0M584.2 336.5h0M584.2 341.3h0M584.2 350.8h0M585.8 312.8h0M585.8 317.5h0M585.8 322.3h0M585.8 327h0M585.8 331.8h0M585.8 336.5h0M585.8 341.3h0M585.8 350.8h0M587.5 303.3h0M587.5 308h0M587.5 312.8h0M587.5 317.5h0M587.5 322.3h0M587.5 327h0M587.5 331.8h0M587.5 346h0M587.5 360.2h0M589.1 270.1h0M589.1 284.3h0M589.1 289.1h0M589.1 298.5h0M589.1 303.3h0M589.1 308h0M589.1 312.8h0M589.1 317.5h0M589.1 322.3h0M589.1 327h0M589.1 331.8h0M589.1 336.5h0M589.1 341.3h0M589.1 346h0M589.1 360.2h0M590.8 303.3h0M590.8 308h0M590.8 312.8h0M590.8 317.5h0M590.8 322.3h0M590.8 327h0M590.8 331.8h0M590.8 336.5h0M590.8 341.3h0M590.8 346h0M590.8 350.8h0M592.4 308h0M592.4 312.8h0M592.4 317.5h0M592.4 322.3h0M592.4 327h0M592.4 331.8h0M592.4 336.5h0M592.4 341.3h0M592.4 350.8h0M592.4 355.5h0M592.4 360.2h0M594.1 284.3h0M594.1 298.5h0M594.1 308h0M594.1 312.8h0M594.1 317.5h0M594.1 322.3h0M594.1 327h0M594.1 331.8h0M594.1 336.5h0M594.1 341.3h0M594.1 346h0M594.1 365h0M595.7 279.6h0M595.7 298.5h0M595.7 303.3h0M595.7 308h0M595.7 312.8h0M595.7 317.5h0M595.7 322.3h0M595.7 327h0M595.7 331.8h0M595.7 336.5h0M595.7 341.3h0M597.4 270.1h0M597.4 303.3h0M597.4 308h0M597.4 312.8h0M597.4 317.5h0M597.4 322.3h0M597.4 327h0M597.4 331.8h0M597.4 336.5h0M597.4 341.3h0M597.4 346h0M597.4 355.5h0M599.1 274.8h0M599.1 293.8h0M599.1 298.5h0M599.1 303.3h0M599.1 308h0M599.1 312.8h0M599.1 317.5h0M599.1 322.3h0M599.1 327h0M599.1 331.8h0M599.1 346h0M599.1 350.8h0M600.7 289.1h0M600.7 303.3h0M600.7 312.8h0M600.7 317.5h0M600.7 322.3h0M600.7 327h0M600.7 331.8h0M600.7 336.5h0M600.7 341.3h0M600.7 360.2h0M602.4 308h0M602.4 312.8h0M602.4 317.5h0M602.4 322.3h0M602.4 327h0M602.4 331.8h0M602.4 336.5h0M602.4 341.3h0M602.4 355.5h0M602.4 360.2h0M604 289.1h0M604 293.8h0M604 303.3h0M604 308h0M604 312.8h0M604 317.5h0M604 322.3h0M604 327h0M604 331.8h0M604 336.5h0M604 341.3h0M604 346h0M604 355.5h0M605.7 293.8h0M605.7 298.5h0M605.7 303.3h0M605.7 312.8h0M605.7 317.5h0M605.7 322.3h0M605.7 327h0M605.7 331.8h0M605.7 336.5h0M605.7 341.3h0M605.7 346h0M605.7 355.5h0M605.7 360.2h0M607.3 308h0M607.3 312.8h0M607.3 317.5h0M607.3 322.3h0M607.3 331.8h0M607.3 336.5h0M607.3 346h0M607.3 365h0M609 284.3h0M609 298.5h0M609 303.3h0M609 308h0M609 312.8h0M609 317.5h0M609 322.3h0M609 327h0M609 331.8h0M609 341.3h0M609 355.5h0M609 365h0M610.6 289.1h0M610.6 298.5h0M610.6 308h0M610.6 312.8h0M610.6 317.5h0M610.6 322.3h0M610.6 327h0M610.6 331.8h0M610.6 336.5h0M610.6 346h0M612.3 284.3h0M612.3 289.1h0M612.3 308h0M612.3 312.8h0M612.3 317.5h0M612.3 322.3h0M612.3 327h0M612.3 331.8h0M612.3 336.5h0M612.3 341.3h0M612.3 346h0M612.3 350.8h0M612.3 355.5h0M613.9 274.8h0M613.9 289.1h0M613.9 298.5h0M613.9 303.3h0M613.9 308h0M613.9 312.8h0M613.9 317.5h0M613.9 322.3h0M613.9 327h0M613.9 331.8h0M613.9 336.5h0M613.9 341.3h0M613.9 346h0M615.6 284.3h0M615.6 293.8h0M615.6 308h0M615.6 312.8h0M615.6 317.5h0M615.6 322.3h0M615.6 327h0M615.6 331.8h0M615.6 336.5h0M615.6 341.3h0M615.6 346h0M617.2 279.6h0M617.2 303.3h0M617.2 308h0M617.2 312.8h0M617.2 317.5h0M617.2 322.3h0M617.2 327h0M617.2 331.8h0M617.2 336.5h0M617.2 341.3h0M617.2 350.8h0M618.9 274.8h0M618.9 293.8h0M618.9 303.3h0M618.9 312.8h0M618.9 317.5h0M618.9 322.3h0M618.9 327h0M618.9 331.8h0M618.9 336.5h0M618.9 341.3h0M618.9 350.8h0M618.9 355.5h0M618.9 360.2h0M633.5 270.1h0M633.5 274.8h0M633.5 284.3h0M633.5 289.1h0M633.5 293.8h0M633.5 298.5h0M633.5 303.3h0M633.5 308h0M633.5 312.8h0M633.5 317.5h0M633.5 322.3h0M633.5 327h0M633.5 331.8h0M633.5 341.3h0M633.5 365h0M635.2 279.6h0M635.2 284.3h0M635.2 293.8h0M635.2 298.5h0M635.2 303.3h0M635.2 308h0M635.2 312.8h0M635.2 317.5h0M635.2 322.3h0M635.2 327h0M635.2 336.5h0M636.8 284.3h0M636.8 293.8h0M636.8 298.5h0M636.8 303.3h0M636.8 308h0M636.8 312.8h0M636.8 317.5h0M636.8 327h0M636.8 331.8h0M638.5 284.3h0M638.5 289.1h0M638.5 293.8h0M638.5 298.5h0M638.5 303.3h0M638.5 308h0M638.5 312.8h0M638.5 317.5h0M638.5 322.3h0M638.5 327h0M638.5 336.5h0M640.2 284.3h0M640.2 289.1h0M640.2 293.8h0M640.2 298.5h0M640.2 303.3h0M640.2 308h0M640.2 312.8h0M640.2 317.5h0M640.2 322.3h0M640.2 327h0M640.2 331.8h0M640.2 336.5h0M640.2 346h0M640.2 369.7h0M641.8 279.6h0M641.8 289.1h0M641.8 298.5h0M641.8 303.3h0M641.8 308h0M641.8 312.8h0M641.8 317.5h0M641.8 322.3h0M641.8 327h0M641.8 331.8h0M641.8 336.5h0M643.5 284.3h0M643.5 289.1h0M643.5 293.8h0M643.5 298.5h0M643.5 303.3h0M643.5 308h0M643.5 312.8h0M643.5 317.5h0M643.5 322.3h0M643.5 327h0M645.2 289.1h0M645.2 293.8h0M645.2 298.5h0M645.2 303.3h0M645.2 308h0M645.2 312.8h0M645.2 317.5h0M645.2 322.3h0M645.2 327h0M645.2 346h0M646.8 265.3h0M646.8 284.3h0M646.8 298.5h0M646.8 303.3h0M646.8 308h0M646.8 312.8h0M646.8 317.5h0M646.8 322.3h0M646.8 327h0M646.8 331.8h0M646.8 346h0M648.5 265.3h0M648.5 279.6h0M648.5 293.8h0M648.5 298.5h0M648.5 303.3h0M648.5 308h0M648.5 317.5h0M648.5 322.3h0M648.5 327h0M648.5 331.8h0M648.5 336.5h0M650.2 289.1h0M650.2 298.5h0M650.2 303.3h0M650.2 308h0M650.2 312.8h0M650.2 317.5h0M650.2 322.3h0M650.2 327h0M650.2 331.8h0M650.2 336.5h0M650.2 341.3h0M651.8 298.5h0M651.8 303.3h0M651.8 308h0M651.8 312.8h0M651.8 317.5h0M651.8 322.3h0M651.8 336.5h0M653.5 289.1h0M653.5 293.8h0M653.5 298.5h0M653.5 303.3h0M653.5 308h0M653.5 312.8h0M653.5 317.5h0M653.5 322.3h0M653.5 327h0M653.5 331.8h0M653.5 346h0M655.2 289.1h0M655.2 298.5h0M655.2 303.3h0M655.2 308h0M655.2 312.8h0M655.2 317.5h0M655.2 322.3h0M655.2 336.5h0M655.2 346h0M656.9 274.8h0M656.9 279.6h0M656.9 289.1h0M656.9 293.8h0M656.9 298.5h0M656.9 303.3h0M656.9 308h0M656.9 312.8h0M656.9 317.5h0M656.9 322.3h0M656.9 327h0M658.5 274.8h0M658.5 284.3h0M658.5 289.1h0M658.5 293.8h0M658.5 298.5h0M658.5 303.3h0M658.5 308h0M658.5 312.8h0M658.5 317.5h0M658.5 327h0M658.5 331.8h0M658.5 336.5h0M658.5 341.3h0M660.2 284.3h0M660.2 289.1h0M660.2 293.8h0M660.2 298.5h0M660.2 303.3h0M660.2 308h0M660.2 312.8h0M660.2 317.5h0M660.2 322.3h0M660.2 327h0M660.2 331.8h0M661.9 279.6h0M661.9 284.3h0M661.9 289.1h0M661.9 293.8h0M661.9 298.5h0M661.9 303.3h0M661.9 308h0M661.9 312.8h0M661.9 317.5h0M661.9 322.3h0M661.9 327h0M661.9 336.5h0M661.9 355.5h0M663.5 270.1h0M663.5 289.1h0M663.5 293.8h0M663.5 298.5h0M663.5 303.3h0M663.5 308h0M663.5 312.8h0M663.5 317.5h0M663.5 322.3h0M663.5 327h0M663.5 331.8h0M663.5 336.5h0M665.2 284.3h0M665.2 293.8h0M665.2 298.5h0M665.2 303.3h0M665.2 308h0M665.2 312.8h0M665.2 317.5h0M665.2 322.3h0M665.2 327h0M665.2 331.8h0M665.2 336.5h0M666.9 279.6h0M666.9 289.1h0M666.9 293.8h0M666.9 298.5h0M666.9 303.3h0M666.9 308h0M666.9 312.8h0M666.9 317.5h0M666.9 322.3h0M666.9 327h0M666.9 331.8h0M666.9 341.3h0M668.5 274.8h0M668.5 284.3h0M668.5 293.8h0M668.5 298.5h0M668.5 303.3h0M668.5 308h0M668.5 312.8h0M668.5 317.5h0M668.5 322.3h0M668.5 327h0M668.5 331.8h0M670.2 298.5h0M670.2 303.3h0M670.2 308h0M670.2 312.8h0M670.2 317.5h0M670.2 322.3h0M670.2 331.8h0M671.9 260.6h0M671.9 279.6h0M671.9 284.3h0M671.9 289.1h0M671.9 293.8h0M671.9 298.5h0M671.9 303.3h0M671.9 308h0M671.9 312.8h0M671.9 317.5h0M671.9 327h0M671.9 331.8h0M671.9 336.5h0M671.9 346h0M671.9 355.5h0M673.5 274.8h0M673.5 279.6h0M673.5 289.1h0M673.5 293.8h0M673.5 298.5h0M673.5 303.3h0M673.5 312.8h0M673.5 317.5h0M673.5 322.3h0M673.5 327h0M675.2 279.6h0M675.2 289.1h0M675.2 293.8h0M675.2 298.5h0M675.2 303.3h0M675.2 308h0M675.2 312.8h0M675.2 317.5h0M675.2 322.3h0M675.2 327h0M675.2 331.8h0M675.2 369.7h0M689.8 279.6h0M689.8 284.3h0M689.8 289.1h0M689.8 293.8h0M689.8 298.5h0M689.8 303.3h0M689.8 322.3h0M691.5 270.1h0M691.5 274.8h0M691.5 279.6h0M691.5 284.3h0M691.5 289.1h0M691.5 293.8h0M691.5 298.5h0M691.5 303.3h0M691.5 308h0M691.5 312.8h0M691.5 317.5h0M691.5 322.3h0M693.1 270.1h0M693.1 274.8h0M693.1 279.6h0M693.1 284.3h0M693.1 289.1h0M693.1 293.8h0M693.1 298.5h0M693.1 303.3h0M693.1 308h0M693.1 312.8h0M693.1 331.8h0M694.8 270.1h0M694.8 274.8h0M694.8 279.6h0M694.8 284.3h0M694.8 289.1h0M694.8 293.8h0M694.8 298.5h0M694.8 303.3h0M694.8 308h0M694.8 312.8h0M694.8 317.5h0M694.8 322.3h0M694.8 336.5h0M696.5 251.1h0M696.5 270.1h0M696.5 284.3h0M696.5 289.1h0M696.5 293.8h0M696.5 298.5h0M696.5 303.3h0M696.5 308h0M696.5 312.8h0M696.5 317.5h0M696.5 336.5h0M698.1 265.3h0M698.1 270.1h0M698.1 274.8h0M698.1 279.6h0M698.1 284.3h0M698.1 289.1h0M698.1 293.8h0M698.1 298.5h0M698.1 303.3h0M698.1 308h0M698.1 312.8h0M698.1 322.3h0M699.8 251.1h0M699.8 255.8h0M699.8 265.3h0M699.8 279.6h0M699.8 284.3h0M699.8 289.1h0M699.8 293.8h0M699.8 298.5h0M699.8 303.3h0M699.8 308h0M699.8 312.8h0M699.8 322.3h0M699.8 331.8h0M701.4 274.8h0M701.4 279.6h0M701.4 284.3h0M701.4 293.8h0M701.4 298.5h0M701.4 303.3h0M701.4 308h0M701.4 317.5h0M703.1 279.6h0M703.1 284.3h0M703.1 293.8h0M703.1 298.5h0M703.1 303.3h0M703.1 308h0M703.1 312.8h0M703.1 317.5h0M704.8 270.1h0M704.8 274.8h0M704.8 284.3h0M704.8 289.1h0M704.8 293.8h0M704.8 298.5h0M704.8 303.3h0M704.8 308h0M704.8 312.8h0M704.8 317.5h0M706.4 251.1h0M706.4 274.8h0M706.4 279.6h0M706.4 284.3h0M706.4 289.1h0M706.4 293.8h0M706.4 298.5h0M706.4 303.3h0M706.4 308h0M706.4 312.8h0M706.4 317.5h0M706.4 327h0M706.4 331.8h0M706.4 336.5h0M708.1 270.1h0M708.1 274.8h0M708.1 279.6h0M708.1 284.3h0M708.1 289.1h0M708.1 293.8h0M708.1 298.5h0M708.1 303.3h0M708.1 308h0M708.1 312.8h0M708.1 317.5h0M708.1 322.3h0M709.8 270.1h0M709.8 279.6h0M709.8 284.3h0M709.8 289.1h0M709.8 293.8h0M709.8 298.5h0M709.8 303.3h0M709.8 308h0M709.8 312.8h0M709.8 317.5h0M709.8 327h0M711.4 270.1h0M711.4 274.8h0M711.4 279.6h0M711.4 289.1h0M711.4 298.5h0M711.4 303.3h0M711.4 308h0M711.4 312.8h0M711.4 317.5h0M711.4 327h0M711.4 331.8h0M713.1 255.8h0M713.1 265.3h0M713.1 270.1h0M713.1 274.8h0M713.1 279.6h0M713.1 284.3h0M713.1 289.1h0M713.1 293.8h0M713.1 298.5h0M713.1 303.3h0M713.1 308h0M713.1 312.8h0M713.1 331.8h0M714.8 260.6h0M714.8 270.1h0M714.8 274.8h0M714.8 279.6h0M714.8 284.3h0M714.8 289.1h0M714.8 293.8h0M714.8 298.5h0M714.8 303.3h0M714.8 308h0M714.8 312.8h0M714.8 317.5h0M714.8 322.3h0M714.8 327h0M714.8 331.8h0M714.8 336.5h0M716.4 274.8h0M716.4 279.6h0M716.4 284.3h0M716.4 289.1h0M716.4 293.8h0M716.4 298.5h0M716.4 303.3h0M716.4 308h0M716.4 317.5h0M716.4 331.8h0M718.1 260.6h0M718.1 270.1h0M718.1 274.8h0M718.1 279.6h0M718.1 284.3h0M718.1 289.1h0M718.1 293.8h0M718.1 298.5h0M718.1 303.3h0M718.1 308h0M718.1 312.8h0M718.1 317.5h0M718.1 331.8h0M719.8 270.1h0M719.8 274.8h0M719.8 284.3h0M719.8 289.1h0M719.8 293.8h0M719.8 298.5h0M719.8 303.3h0M719.8 308h0M719.8 317.5h0M719.8 322.3h0M721.4 265.3h0M721.4 279.6h0M721.4 284.3h0M721.4 289.1h0M721.4 293.8h0M721.4 298.5h0M721.4 303.3h0M721.4 312.8h0M721.4 317.5h0M721.4 327h0M723.1 265.3h0M723.1 270.1h0M723.1 274.8h0M723.1 279.6h0M723.1 284.3h0M723.1 289.1h0M723.1 293.8h0M723.1 298.5h0M723.1 303.3h0M723.1 308h0M723.1 312.8h0M723.1 317.5h0M723.1 327h0M724.7 260.6h0M724.7 270.1h0M724.7 274.8h0M724.7 289.1h0M724.7 293.8h0M724.7 298.5h0M724.7 303.3h0M724.7 308h0M724.7 317.5h0M724.7 322.3h0M726.4 260.6h0M726.4 274.8h0M726.4 279.6h0M726.4 284.3h0M726.4 289.1h0M726.4 293.8h0M726.4 298.5h0M726.4 303.3h0M726.4 308h0M726.4 312.8h0M726.4 317.5h0M726.4 327h0M728.1 274.8h0M728.1 279.6h0M728.1 284.3h0M728.1 293.8h0M728.1 298.5h0M728.1 303.3h0M728.1 312.8h0M728.1 317.5h0M728.1 331.8h0M729.7 279.6h0M729.7 284.3h0M729.7 289.1h0M729.7 293.8h0M729.7 298.5h0M729.7 303.3h0M729.7 308h0M729.7 322.3h0M729.7 327h0M731.4 255.8h0M731.4 274.8h0M731.4 284.3h0M731.4 289.1h0M731.4 293.8h0M731.4 298.5h0M731.4 303.3h0M731.4 308h0M731.4 312.8h0M731.4 317.5h0M731.4 322.3h0M731.4 336.5h0M746.3 251.1h0M746.3 255.8h0M746.3 260.6h0M746.3 265.3h0M746.3 270.1h0M746.3 274.8h0M746.3 279.6h0M746.3 284.3h0M746.3 289.1h0M746.3 298.5h0M746.3 303.3h0M746.3 312.8h0M748 246.3h0M748 251.1h0M748 255.8h0M748 265.3h0M748 270.1h0M748 274.8h0M748 279.6h0M748 284.3h0M748 289.1h0M748 298.5h0M748 303.3h0M748 308h0M748 312.8h0M749.7 236.8h0M749.7 260.6h0M749.7 265.3h0M749.7 270.1h0M749.7 274.8h0M749.7 279.6h0M749.7 284.3h0M749.7 289.1h0M749.7 293.8h0M749.7 298.5h0M749.7 303.3h0M749.7 308h0M749.7 312.8h0M749.7 317.5h0M751.4 251.1h0M751.4 260.6h0M751.4 265.3h0M751.4 270.1h0M751.4 274.8h0M751.4 279.6h0M751.4 284.3h0M751.4 293.8h0M751.4 298.5h0M751.4 303.3h0M751.4 308h0M751.4 312.8h0M753.1 265.3h0M753.1 270.1h0M753.1 274.8h0M753.1 279.6h0M753.1 284.3h0M753.1 289.1h0M753.1 293.8h0M753.1 303.3h0M753.1 308h0M753.1 312.8h0M753.1 322.3h0M754.8 251.1h0M754.8 255.8h0M754.8 260.6h0M754.8 265.3h0M754.8 270.1h0M754.8 274.8h0M754.8 279.6h0M754.8 284.3h0M754.8 289.1h0M754.8 293.8h0M754.8 298.5h0M754.8 303.3h0M756.4 232.1h0M756.4 255.8h0M756.4 265.3h0M756.4 270.1h0M756.4 274.8h0M756.4 279.6h0M756.4 289.1h0M756.4 293.8h0M756.4 298.5h0M756.4 303.3h0M756.4 312.8h0M756.4 317.5h0M758.1 255.8h0M758.1 260.6h0M758.1 270.1h0M758.1 274.8h0M758.1 279.6h0M758.1 284.3h0M758.1 289.1h0M758.1 293.8h0M758.1 298.5h0M758.1 303.3h0M758.1 317.5h0M759.8 246.3h0M759.8 265.3h0M759.8 270.1h0M759.8 274.8h0M759.8 279.6h0M759.8 284.3h0M759.8 289.1h0M759.8 293.8h0M759.8 298.5h0M759.8 303.3h0M759.8 312.8h0M761.5 246.3h0M761.5 260.6h0M761.5 265.3h0M761.5 270.1h0M761.5 274.8h0M761.5 279.6h0M761.5 284.3h0M761.5 289.1h0M761.5 293.8h0M761.5 298.5h0M761.5 303.3h0M761.5 308h0M763.2 255.8h0M763.2 270.1h0M763.2 274.8h0M763.2 279.6h0M763.2 284.3h0M763.2 289.1h0M763.2 293.8h0M763.2 298.5h0M763.2 303.3h0M763.2 312.8h0M764.9 246.3h0M764.9 251.1h0M764.9 260.6h0M764.9 265.3h0M764.9 270.1h0M764.9 274.8h0M764.9 279.6h0M764.9 284.3h0M764.9 289.1h0M764.9 293.8h0M764.9 298.5h0M764.9 303.3h0M764.9 308h0M764.9 312.8h0M764.9 322.3h0M766.6 241.6h0M766.6 246.3h0M766.6 260.6h0M766.6 265.3h0M766.6 270.1h0M766.6 274.8h0M766.6 279.6h0M766.6 284.3h0M766.6 289.1h0M766.6 293.8h0M766.6 298.5h0M766.6 303.3h0M766.6 308h0M768.3 241.6h0M768.3 265.3h0M768.3 270.1h0M768.3 274.8h0M768.3 279.6h0M768.3 284.3h0M768.3 289.1h0M768.3 293.8h0M768.3 298.5h0M768.3 303.3h0M768.3 312.8h0M768.3 322.3h0M770 241.6h0M770 260.6h0M770 265.3h0M770 270.1h0M770 274.8h0M770 279.6h0M770 284.3h0M770 289.1h0M770 293.8h0M770 298.5h0M770 303.3h0M770 308h0M770 317.5h0M771.7 241.6h0M771.7 251.1h0M771.7 255.8h0M771.7 260.6h0M771.7 265.3h0M771.7 270.1h0M771.7 274.8h0M771.7 279.6h0M771.7 284.3h0M771.7 289.1h0M771.7 293.8h0M771.7 298.5h0M771.7 303.3h0M773.4 255.8h0M773.4 260.6h0M773.4 265.3h0M773.4 270.1h0M773.4 274.8h0M773.4 279.6h0M773.4 284.3h0M773.4 289.1h0M773.4 293.8h0M773.4 303.3h0M773.4 308h0M773.4 322.3h0M775.1 241.6h0M775.1 251.1h0M775.1 260.6h0M775.1 265.3h0M775.1 270.1h0M775.1 274.8h0M775.1 279.6h0M775.1 284.3h0M775.1 289.1h0M775.1 293.8h0M775.1 298.5h0M775.1 308h0M775.1 312.8h0M775.1 322.3h0M776.8 255.8h0M776.8 265.3h0M776.8 270.1h0M776.8 274.8h0M776.8 279.6h0M776.8 284.3h0M776.8 289.1h0M776.8 293.8h0M776.8 298.5h0M776.8 303.3h0M776.8 308h0M778.4 260.6h0M778.4 265.3h0M778.4 270.1h0M778.4 274.8h0M778.4 279.6h0M778.4 284.3h0M778.4 289.1h0M778.4 293.8h0M778.4 298.5h0M778.4 312.8h0M778.4 322.3h0M780.1 255.8h0M780.1 260.6h0M780.1 270.1h0M780.1 274.8h0M780.1 279.6h0M780.1 284.3h0M780.1 289.1h0M780.1 293.8h0M780.1 298.5h0M780.1 303.3h0M781.8 251.1h0M781.8 260.6h0M781.8 265.3h0M781.8 270.1h0M781.8 274.8h0M781.8 279.6h0M781.8 284.3h0M781.8 289.1h0M781.8 293.8h0M781.8 303.3h0M781.8 322.3h0M783.5 251.1h0M783.5 255.8h0M783.5 260.6h0M783.5 265.3h0M783.5 270.1h0M783.5 274.8h0M783.5 284.3h0M783.5 289.1h0M783.5 293.8h0M783.5 298.5h0M783.5 303.3h0M783.5 312.8h0M785.2 246.3h0M785.2 251.1h0M785.2 265.3h0M785.2 270.1h0M785.2 274.8h0M785.2 284.3h0M785.2 289.1h0M785.2 293.8h0M785.2 298.5h0M785.2 303.3h0M785.2 308h0M785.2 322.3h0M786.9 241.6h0M786.9 260.6h0M786.9 265.3h0M786.9 270.1h0M786.9 274.8h0M786.9 279.6h0M786.9 284.3h0M786.9 289.1h0M786.9 293.8h0M786.9 308h0M786.9 317.5h0M786.9 322.3h0M801.8 217.9h0M801.8 232.1h0M801.8 236.8h0M801.8 246.3h0M801.8 251.1h0M801.8 255.8h0M801.8 260.6h0M801.8 265.3h0M801.8 270.1h0M801.8 274.8h0M801.8 279.6h0M801.8 284.3h0M803.4 236.8h0M803.4 241.6h0M803.4 246.3h0M803.4 251.1h0M803.4 255.8h0M803.4 260.6h0M803.4 265.3h0M803.4 270.1h0M803.4 274.8h0M803.4 279.6h0M803.4 284.3h0M803.4 289.1h0M803.4 293.8h0M803.4 298.5h0M805.1 255.8h0M805.1 260.6h0M805.1 265.3h0M805.1 270.1h0M805.1 274.8h0M805.1 279.6h0M805.1 284.3h0M805.1 289.1h0M805.1 312.8h0M806.8 232.1h0M806.8 251.1h0M806.8 260.6h0M806.8 265.3h0M806.8 270.1h0M806.8 274.8h0M806.8 279.6h0M806.8 284.3h0M808.4 236.8h0M808.4 246.3h0M808.4 251.1h0M808.4 255.8h0M808.4 260.6h0M808.4 265.3h0M808.4 270.1h0M808.4 274.8h0M808.4 279.6h0M808.4 289.1h0M808.4 293.8h0M808.4 298.5h0M810.1 236.8h0M810.1 246.3h0M810.1 251.1h0M810.1 255.8h0M810.1 260.6h0M810.1 265.3h0M810.1 270.1h0M810.1 274.8h0M810.1 279.6h0M810.1 284.3h0M810.1 303.3h0M811.7 241.6h0M811.7 246.3h0M811.7 255.8h0M811.7 260.6h0M811.7 265.3h0M811.7 270.1h0M811.7 274.8h0M811.7 279.6h0M811.7 284.3h0M811.7 289.1h0M811.7 303.3h0M813.4 236.8h0M813.4 246.3h0M813.4 251.1h0M813.4 255.8h0M813.4 260.6h0M813.4 265.3h0M813.4 270.1h0M813.4 274.8h0M813.4 279.6h0M813.4 289.1h0M813.4 293.8h0M813.4 298.5h0M813.4 312.8h0M815 241.6h0M815 246.3h0M815 251.1h0M815 255.8h0M815 265.3h0M815 270.1h0M815 274.8h0M815 279.6h0M815 284.3h0M815 289.1h0M815 293.8h0M815 308h0M816.7 236.8h0M816.7 241.6h0M816.7 251.1h0M816.7 255.8h0M816.7 260.6h0M816.7 265.3h0M816.7 270.1h0M816.7 274.8h0M816.7 284.3h0M816.7 298.5h0M818.3 251.1h0M818.3 255.8h0M818.3 260.6h0M818.3 265.3h0M818.3 270.1h0M818.3 274.8h0M818.3 284.3h0M818.3 289.1h0M818.3 303.3h0M820 236.8h0M820 241.6h0M820 246.3h0M820 251.1h0M820 255.8h0M820 260.6h0M820 265.3h0M820 270.1h0M820 274.8h0M820 279.6h0M820 284.3h0M820 289.1h0M820 293.8h0M821.6 246.3h0M821.6 251.1h0M821.6 255.8h0M821.6 260.6h0M821.6 265.3h0M821.6 270.1h0M821.6 274.8h0M821.6 279.6h0M821.6 284.3h0M821.6 289.1h0M821.6 293.8h0M821.6 298.5h0M823.2 232.1h0M823.2 246.3h0M823.2 251.1h0M823.2 255.8h0M823.2 260.6h0M823.2 265.3h0M823.2 270.1h0M823.2 274.8h0M823.2 279.6h0M823.2 284.3h0M823.2 289.1h0M824.9 246.3h0M824.9 251.1h0M824.9 255.8h0M824.9 260.6h0M824.9 265.3h0M824.9 270.1h0M824.9 274.8h0M824.9 279.6h0M824.9 284.3h0M824.9 293.8h0M824.9 298.5h0M824.9 303.3h0M826.6 217.9h0M826.6 227.4h0M826.6 232.1h0M826.6 251.1h0M826.6 255.8h0M826.6 260.6h0M826.6 265.3h0M826.6 270.1h0M826.6 274.8h0M826.6 279.6h0M826.6 284.3h0M826.6 289.1h0M826.6 293.8h0M826.6 298.5h0M826.6 327h0M828.2 232.1h0M828.2 241.6h0M828.2 246.3h0M828.2 251.1h0M828.2 255.8h0M828.2 260.6h0M828.2 265.3h0M828.2 270.1h0M828.2 274.8h0M828.2 279.6h0M828.2 284.3h0M828.2 289.1h0M828.2 298.5h0M829.8 217.9h0M829.8 251.1h0M829.8 255.8h0M829.8 260.6h0M829.8 265.3h0M829.8 270.1h0M829.8 274.8h0M829.8 279.6h0M829.8 284.3h0M829.8 289.1h0M829.8 293.8h0M829.8 298.5h0M831.5 241.6h0M831.5 246.3h0M831.5 251.1h0M831.5 255.8h0M831.5 260.6h0M831.5 265.3h0M831.5 270.1h0M831.5 274.8h0M831.5 279.6h0M831.5 284.3h0M831.5 289.1h0M831.5 293.8h0M831.5 298.5h0M831.5 322.3h0M833.2 227.4h0M833.2 241.6h0M833.2 246.3h0M833.2 251.1h0M833.2 255.8h0M833.2 260.6h0M833.2 265.3h0M833.2 270.1h0M833.2 274.8h0M833.2 279.6h0M833.2 284.3h0M833.2 289.1h0M833.2 293.8h0M833.2 317.5h0M833.2 327h0M834.8 232.1h0M834.8 241.6h0M834.8 246.3h0M834.8 251.1h0M834.8 255.8h0M834.8 260.6h0M834.8 265.3h0M834.8 270.1h0M834.8 274.8h0M834.8 279.6h0M834.8 284.3h0M834.8 293.8h0M836.4 232.1h0M836.4 246.3h0M836.4 251.1h0M836.4 255.8h0M836.4 260.6h0M836.4 265.3h0M836.4 270.1h0M836.4 274.8h0M836.4 279.6h0M836.4 284.3h0M836.4 289.1h0M836.4 298.5h0M838.1 241.6h0M838.1 251.1h0M838.1 255.8h0M838.1 260.6h0M838.1 265.3h0M838.1 270.1h0M838.1 274.8h0M838.1 279.6h0M838.1 284.3h0M838.1 289.1h0M838.1 298.5h0M838.1 308h0M839.8 246.3h0M839.8 251.1h0M839.8 255.8h0M839.8 260.6h0M839.8 265.3h0M839.8 270.1h0M839.8 274.8h0M839.8 284.3h0M839.8 289.1h0M839.8 293.8h0M839.8 298.5h0M839.8 308h0M841.4 236.8h0M841.4 255.8h0M841.4 260.6h0M841.4 265.3h0M841.4 270.1h0M841.4 274.8h0M841.4 279.6h0M841.4 284.3h0M841.4 289.1h0M841.4 293.8h0M841.4 298.5h0M856.6 222.6h0M856.6 227.4h0M856.6 241.6h0M856.6 246.3h0M856.6 251.1h0M856.6 255.8h0M856.6 260.6h0M856.6 265.3h0M856.6 270.1h0M856.6 274.8h0M858.3 227.4h0M858.3 236.8h0M858.3 241.6h0M858.3 246.3h0M858.3 251.1h0M858.3 255.8h0M858.3 260.6h0M858.3 265.3h0M858.3 270.1h0M858.3 274.8h0M858.3 279.6h0M859.9 203.6h0M859.9 213.1h0M859.9 217.9h0M859.9 222.6h0M859.9 232.1h0M859.9 236.8h0M859.9 241.6h0M859.9 246.3h0M859.9 251.1h0M859.9 255.8h0M859.9 260.6h0M859.9 265.3h0M859.9 270.1h0M859.9 279.6h0M859.9 284.3h0M861.6 232.1h0M861.6 236.8h0M861.6 241.6h0M861.6 246.3h0M861.6 251.1h0M861.6 255.8h0M861.6 260.6h0M861.6 265.3h0M861.6 279.6h0M863.2 227.4h0M863.2 232.1h0M863.2 236.8h0M863.2 241.6h0M863.2 246.3h0M863.2 251.1h0M863.2 255.8h0M863.2 260.6h0M863.2 265.3h0M863.2 270.1h0M863.2 274.8h0M863.2 279.6h0M864.9 232.1h0M864.9 236.8h0M864.9 241.6h0M864.9 246.3h0M864.9 251.1h0M864.9 260.6h0M864.9 265.3h0M864.9 270.1h0M864.9 274.8h0M864.9 284.3h0M866.5 232.1h0M866.5 236.8h0M866.5 241.6h0M866.5 246.3h0M866.5 251.1h0M866.5 255.8h0M866.5 260.6h0M866.5 265.3h0M866.5 270.1h0M868.2 232.1h0M868.2 236.8h0M868.2 246.3h0M868.2 251.1h0M868.2 255.8h0M868.2 260.6h0M868.2 265.3h0M868.2 274.8h0M868.2 279.6h0M869.8 227.4h0M869.8 232.1h0M869.8 241.6h0M869.8 246.3h0M869.8 255.8h0M869.8 260.6h0M869.8 265.3h0M869.8 270.1h0M869.8 279.6h0M869.8 284.3h0M869.8 289.1h0M869.8 298.5h0M871.5 236.8h0M871.5 241.6h0M871.5 246.3h0M871.5 251.1h0M871.5 255.8h0M871.5 260.6h0M871.5 265.3h0M871.5 279.6h0M871.5 284.3h0M871.5 289.1h0M873.1 232.1h0M873.1 236.8h0M873.1 246.3h0M873.1 251.1h0M873.1 255.8h0M873.1 260.6h0M873.1 265.3h0M873.1 270.1h0M873.1 274.8h0M873.1 293.8h0M874.8 222.6h0M874.8 232.1h0M874.8 236.8h0M874.8 241.6h0M874.8 255.8h0M874.8 260.6h0M874.8 265.3h0M874.8 270.1h0M876.4 232.1h0M876.4 236.8h0M876.4 241.6h0M876.4 246.3h0M876.4 251.1h0M876.4 255.8h0M876.4 260.6h0M876.4 265.3h0M876.4 270.1h0M876.4 274.8h0M876.4 279.6h0M876.4 284.3h0M876.4 298.5h0M878.1 227.4h0M878.1 232.1h0M878.1 236.8h0M878.1 241.6h0M878.1 246.3h0M878.1 251.1h0M878.1 255.8h0M878.1 260.6h0M878.1 265.3h0M878.1 270.1h0M878.1 274.8h0M879.8 227.4h0M879.8 232.1h0M879.8 236.8h0M879.8 241.6h0M879.8 246.3h0M879.8 251.1h0M879.8 255.8h0M879.8 260.6h0M879.8 265.3h0M879.8 270.1h0M879.8 274.8h0M879.8 289.1h0M881.4 232.1h0M881.4 241.6h0M881.4 246.3h0M881.4 251.1h0M881.4 255.8h0M881.4 260.6h0M881.4 265.3h0M881.4 270.1h0M881.4 289.1h0M883.1 222.6h0M883.1 227.4h0M883.1 232.1h0M883.1 251.1h0M883.1 255.8h0M883.1 260.6h0M883.1 265.3h0M883.1 270.1h0M883.1 274.8h0M883.1 279.6h0M884.7 213.1h0M884.7 227.4h0M884.7 236.8h0M884.7 241.6h0M884.7 246.3h0M884.7 251.1h0M884.7 255.8h0M884.7 260.6h0M884.7 265.3h0M884.7 274.8h0M884.7 279.6h0M884.7 284.3h0M884.7 289.1h0M886.4 222.6h0M886.4 227.4h0M886.4 232.1h0M886.4 236.8h0M886.4 241.6h0M886.4 246.3h0M886.4 251.1h0M886.4 255.8h0M886.4 260.6h0M886.4 265.3h0M886.4 270.1h0M886.4 274.8h0M886.4 279.6h0M886.4 293.8h0M888 213.1h0M888 227.4h0M888 241.6h0M888 246.3h0M888 251.1h0M888 255.8h0M888 260.6h0M888 265.3h0M888 270.1h0M888 274.8h0M888 279.6h0M888 289.1h0M889.7 232.1h0M889.7 236.8h0M889.7 241.6h0M889.7 246.3h0M889.7 251.1h0M889.7 255.8h0M889.7 260.6h0M889.7 265.3h0M889.7 270.1h0M889.7 279.6h0M889.7 284.3h0M889.7 293.8h0M891.3 213.1h0M891.3 227.4h0M891.3 232.1h0M891.3 236.8h0M891.3 241.6h0M891.3 246.3h0M891.3 255.8h0M891.3 260.6h0M891.3 265.3h0M891.3 270.1h0M891.3 279.6h0M891.3 284.3h0M893 222.6h0M893 227.4h0M893 236.8h0M893 241.6h0M893 246.3h0M893 251.1h0M893 255.8h0M893 260.6h0M893 265.3h0M893 270.1h0M893 284.3h0M894.6 217.9h0M894.6 227.4h0M894.6 232.1h0M894.6 236.8h0M894.6 241.6h0M894.6 246.3h0M894.6 251.1h0M894.6 255.8h0M894.6 260.6h0M894.6 274.8h0M894.6 293.8h0M896.3 217.9h0M896.3 222.6h0M896.3 227.4h0M896.3 232.1h0M896.3 241.6h0M896.3 246.3h0M896.3 251.1h0M896.3 255.8h0M896.3 260.6h0M896.3 265.3h0M896.3 274.8h0M896.3 279.6h0M896.3 289.1h0M896.3 298.5h0M911.2 222.6h0M911.2 227.4h0M911.2 232.1h0M911.2 236.8h0M911.2 241.6h0M911.2 246.3h0M911.2 251.1h0M911.2 255.8h0M911.2 260.6h0M911.2 284.3h0M911.2 293.8h0M912.9 198.9h0M912.9 213.1h0M912.9 217.9h0M912.9 222.6h0M912.9 227.4h0M912.9 232.1h0M912.9 236.8h0M912.9 241.6h0M912.9 246.3h0M912.9 251.1h0M912.9 255.8h0M912.9 260.6h0M912.9 265.3h0M912.9 293.8h0M914.6 208.4h0M914.6 217.9h0M914.6 222.6h0M914.6 227.4h0M914.6 236.8h0M914.6 241.6h0M914.6 246.3h0M914.6 251.1h0M914.6 255.8h0M914.6 265.3h0M914.6 270.1h0M914.6 279.6h0M916.3 194.1h0M916.3 208.4h0M916.3 213.1h0M916.3 217.9h0M916.3 222.6h0M916.3 232.1h0M916.3 236.8h0M916.3 241.6h0M916.3 246.3h0M916.3 251.1h0M916.3 255.8h0M916.3 260.6h0M916.3 265.3h0M916.3 274.8h0M916.3 279.6h0M918 208.4h0M918 213.1h0M918 217.9h0M918 222.6h0M918 227.4h0M918 232.1h0M918 236.8h0M918 241.6h0M918 246.3h0M918 251.1h0M918 255.8h0M918 265.3h0M919.6 217.9h0M919.6 222.6h0M919.6 227.4h0M919.6 236.8h0M919.6 241.6h0M919.6 246.3h0M919.6 255.8h0M919.6 260.6h0M919.6 270.1h0M919.6 279.6h0M921.3 217.9h0M921.3 222.6h0M921.3 227.4h0M921.3 232.1h0M921.3 236.8h0M921.3 241.6h0M921.3 246.3h0M921.3 251.1h0M921.3 255.8h0M921.3 260.6h0M921.3 265.3h0M921.3 274.8h0M921.3 279.6h0M923 203.6h0M923 208.4h0M923 213.1h0M923 217.9h0M923 222.6h0M923 227.4h0M923 232.1h0M923 236.8h0M923 241.6h0M923 246.3h0M923 251.1h0M923 260.6h0M924.7 217.9h0M924.7 222.6h0M924.7 227.4h0M924.7 232.1h0M924.7 236.8h0M924.7 241.6h0M924.7 246.3h0M924.7 251.1h0M924.7 255.8h0M924.7 260.6h0M924.7 265.3h0M924.7 270.1h0M926.4 213.1h0M926.4 217.9h0M926.4 222.6h0M926.4 227.4h0M926.4 232.1h0M926.4 236.8h0M926.4 241.6h0M926.4 246.3h0M926.4 251.1h0M926.4 255.8h0M926.4 260.6h0M926.4 270.1h0M928.1 213.1h0M928.1 222.6h0M928.1 232.1h0M928.1 236.8h0M928.1 241.6h0M928.1 246.3h0M928.1 251.1h0M928.1 255.8h0M928.1 265.3h0M929.8 213.1h0M929.8 222.6h0M929.8 227.4h0M929.8 236.8h0M929.8 241.6h0M929.8 246.3h0M929.8 251.1h0M929.8 255.8h0M929.8 270.1h0M931.4 203.6h0M931.4 213.1h0M931.4 217.9h0M931.4 227.4h0M931.4 232.1h0M931.4 236.8h0M931.4 241.6h0M931.4 246.3h0M931.4 251.1h0M931.4 255.8h0M931.4 260.6h0M931.4 265.3h0M931.4 270.1h0M931.4 284.3h0M931.4 289.1h0M933.1 208.4h0M933.1 213.1h0M933.1 217.9h0M933.1 222.6h0M933.1 227.4h0M933.1 232.1h0M933.1 236.8h0M933.1 241.6h0M933.1 246.3h0M933.1 251.1h0M933.1 255.8h0M933.1 260.6h0M933.1 265.3h0M933.1 293.8h0M934.8 213.1h0M934.8 222.6h0M934.8 227.4h0M934.8 232.1h0M934.8 236.8h0M934.8 241.6h0M934.8 246.3h0M934.8 251.1h0M934.8 255.8h0M934.8 260.6h0M934.8 265.3h0M934.8 270.1h0M936.5 208.4h0M936.5 217.9h0M936.5 222.6h0M936.5 227.4h0M936.5 232.1h0M936.5 236.8h0M936.5 241.6h0M936.5 246.3h0M936.5 251.1h0M936.5 255.8h0M936.5 270.1h0M936.5 279.6h0M936.5 284.3h0M938.2 203.6h0M938.2 213.1h0M938.2 227.4h0M938.2 232.1h0M938.2 236.8h0M938.2 241.6h0M938.2 246.3h0M938.2 255.8h0M938.2 260.6h0M938.2 265.3h0M938.2 274.8h0M939.9 217.9h0M939.9 222.6h0M939.9 227.4h0M939.9 232.1h0M939.9 236.8h0M939.9 241.6h0M939.9 246.3h0M939.9 251.1h0M939.9 255.8h0M939.9 260.6h0M939.9 265.3h0M941.6 198.9h0M941.6 213.1h0M941.6 222.6h0M941.6 227.4h0M941.6 232.1h0M941.6 236.8h0M941.6 241.6h0M941.6 246.3h0M941.6 251.1h0M941.6 255.8h0M941.6 265.3h0M943.3 232.1h0M943.3 236.8h0M943.3 241.6h0M943.3 246.3h0M943.3 251.1h0M943.3 255.8h0M943.3 260.6h0M943.3 265.3h0M945 213.1h0M945 222.6h0M945 227.4h0M945 232.1h0M945 236.8h0M945 241.6h0M945 246.3h0M945 251.1h0M945 255.8h0M945 260.6h0M945 274.8h0M946.6 217.9h0M946.6 222.6h0M946.6 227.4h0M946.6 232.1h0M946.6 236.8h0M946.6 241.6h0M946.6 246.3h0M946.6 251.1h0M946.6 255.8h0M946.6 260.6h0M946.6 265.3h0M946.6 274.8h0M948.3 198.9h0M948.3 217.9h0M948.3 227.4h0M948.3 232.1h0M948.3 236.8h0M948.3 241.6h0M948.3 246.3h0M948.3 251.1h0M948.3 255.8h0M948.3 260.6h0M948.3 270.1h0M950 217.9h0M950 232.1h0M950 236.8h0M950 241.6h0M950 246.3h0M950 251.1h0M950 255.8h0M950 265.3h0M950 270.1h0M950 284.3h0M951.7 213.1h0M951.7 217.9h0M951.7 222.6h0M951.7 227.4h0M951.7 236.8h0M951.7 241.6h0M951.7 246.3h0M951.7 251.1h0M951.7 260.6h0M951.7 265.3h0" stroke="#c8144e" stroke-width="2.45" stroke-linecap="round" fill="none"/>
<rect x="142.1" y="60.7" width="821.1" height="416.2" fill="none" stroke="#000" stroke-width="1.6" stroke-linejoin="round"/>
<text x="89.89" y="170.3" font-size="32.5" fill="#0d0d0d" textLength="41.8" lengthAdjust="spacingAndGlyphs" stroke="#fff" stroke-width="0.25">1.0</text>
<text x="87.36" y="309.1" font-size="32.5" fill="#0d0d0d" textLength="44.86" lengthAdjust="spacingAndGlyphs" stroke="#fff" stroke-width="0.25">0.5</text>
<text x="87.37" y="447.8" font-size="32.5" fill="#0d0d0d" textLength="44.6" lengthAdjust="spacingAndGlyphs" stroke="#fff" stroke-width="0.25">0.0</text>
<text x="132.8" y="515.8" font-size="32.5" fill="#0d0d0d" textLength="18.78" lengthAdjust="spacingAndGlyphs" stroke="#fff" stroke-width="0.25">0</text>
<text x="323.02" y="515.8" font-size="32.5" fill="#0d0d0d" textLength="55.23" lengthAdjust="spacingAndGlyphs" stroke="#fff" stroke-width="0.25">200</text>
<text x="530.74" y="515.8" font-size="32.5" fill="#0d0d0d" textLength="54.8" lengthAdjust="spacingAndGlyphs" stroke="#fff" stroke-width="0.25">400</text>
<text x="738.32" y="515.8" font-size="32.5" fill="#0d0d0d" textLength="55.02" lengthAdjust="spacingAndGlyphs" stroke="#fff" stroke-width="0.25">600</text>
<text y="580.6" font-size="32.8" fill="#0d0d0d" stroke="#fff" stroke-width="0.25"><tspan x="499.15" textLength="71.56" lengthAdjust="spacingAndGlyphs">Time</tspan> <tspan x="580.1" textLength="26.09" lengthAdjust="spacingAndGlyphs">/s</tspan></text>
<g transform="translate(31.8 394) rotate(-90)"><text y="0" font-size="32.8" fill="#0d0d0d" stroke="#fff" stroke-width="0.25"><tspan x="-2.78" textLength="86.39" lengthAdjust="spacingAndGlyphs">Mirror</tspan> <tspan x="94.13" textLength="73.01" lengthAdjust="spacingAndGlyphs">pitch</tspan> <tspan x="176.8" textLength="76.39" lengthAdjust="spacingAndGlyphs">/µrad</tspan></text></g>
<text y="112.1" font-size="29.0" fill="#0d0d0d" stroke="#fff" stroke-width="0.25"><tspan x="180.22" textLength="87.78" lengthAdjust="spacingAndGlyphs">Bestec</tspan> <tspan x="276.62" textLength="72.09" lengthAdjust="spacingAndGlyphs">P408:</tspan> <tspan x="355.75" textLength="39.53" lengthAdjust="spacingAndGlyphs">M4</tspan> <tspan x="403.21" textLength="137.57" lengthAdjust="spacingAndGlyphs">SISSY_soft</tspan> <tspan x="548.84" textLength="153.6" lengthAdjust="spacingAndGlyphs">BESSY/HZB</tspan></text>
<text y="146.9" font-size="29.0" fill="#0d0d0d" stroke="#fff" stroke-width="0.25"><tspan x="180.66" textLength="57.25" lengthAdjust="spacingAndGlyphs">Step</tspan> <tspan x="247.7" textLength="66.31" lengthAdjust="spacingAndGlyphs">width</tspan> <tspan x="322.08" textLength="18.27" lengthAdjust="spacingAndGlyphs">=</tspan> <tspan x="348.9" textLength="54.25" lengthAdjust="spacingAndGlyphs">0.05</tspan> <tspan x="410.28" textLength="59.32" lengthAdjust="spacingAndGlyphs">µrad</tspan></text>
<text y="181.7" font-size="29.0" fill="#0d0d0d" stroke="#fff" stroke-width="0.25"><tspan x="180.08" textLength="137.33" lengthAdjust="spacingAndGlyphs">Positioning</tspan> <tspan x="326.42" textLength="52.82" lengthAdjust="spacingAndGlyphs">time</tspan> <tspan x="387.26" textLength="17.42" lengthAdjust="spacingAndGlyphs">=</tspan> <tspan x="420.98" textLength="31.55" lengthAdjust="spacingAndGlyphs">30</tspan> <tspan x="461.3" textLength="13.53" lengthAdjust="spacingAndGlyphs">s</tspan></text>
<text y="217.1" font-size="29.0" fill="#111111" stroke="#111111" stroke-width="0.1"><tspan x="180.84" textLength="105.91" lengthAdjust="spacingAndGlyphs">Stability</tspan> <tspan x="296.28" textLength="34.15" lengthAdjust="spacingAndGlyphs">on</tspan> <tspan x="338.5" textLength="99.89" lengthAdjust="spacingAndGlyphs">plateau</tspan> <tspan x="446.18" textLength="55.54" lengthAdjust="spacingAndGlyphs">(1σ)</tspan> <tspan x="510.95" textLength="19.72" lengthAdjust="spacingAndGlyphs">=</tspan> <tspan x="539.55" textLength="56.34" lengthAdjust="spacingAndGlyphs">0.05</tspan> <tspan x="604.73" textLength="63.5" lengthAdjust="spacingAndGlyphs">µrad</tspan></text>
<text y="446.0" font-size="27.2" fill="#1c1c1c" stroke="#fff" stroke-width="0.25"><tspan x="491.15" textLength="87.26" lengthAdjust="spacingAndGlyphs">Stability</tspan> <tspan x="586.24" textLength="17.56" lengthAdjust="spacingAndGlyphs">is</tspan> <tspan x="610.56" textLength="73.67" lengthAdjust="spacingAndGlyphs">limited</tspan> <tspan x="691.77" textLength="25.13" lengthAdjust="spacingAndGlyphs">by</tspan> <tspan x="727.04" textLength="34.87" lengthAdjust="spacingAndGlyphs">the</tspan> <tspan x="767.61" textLength="93.51" lengthAdjust="spacingAndGlyphs">encoder</tspan> <tspan x="868.16" textLength="61.04" lengthAdjust="spacingAndGlyphs">noise</tspan></text>
</svg>
</body>
</html>
